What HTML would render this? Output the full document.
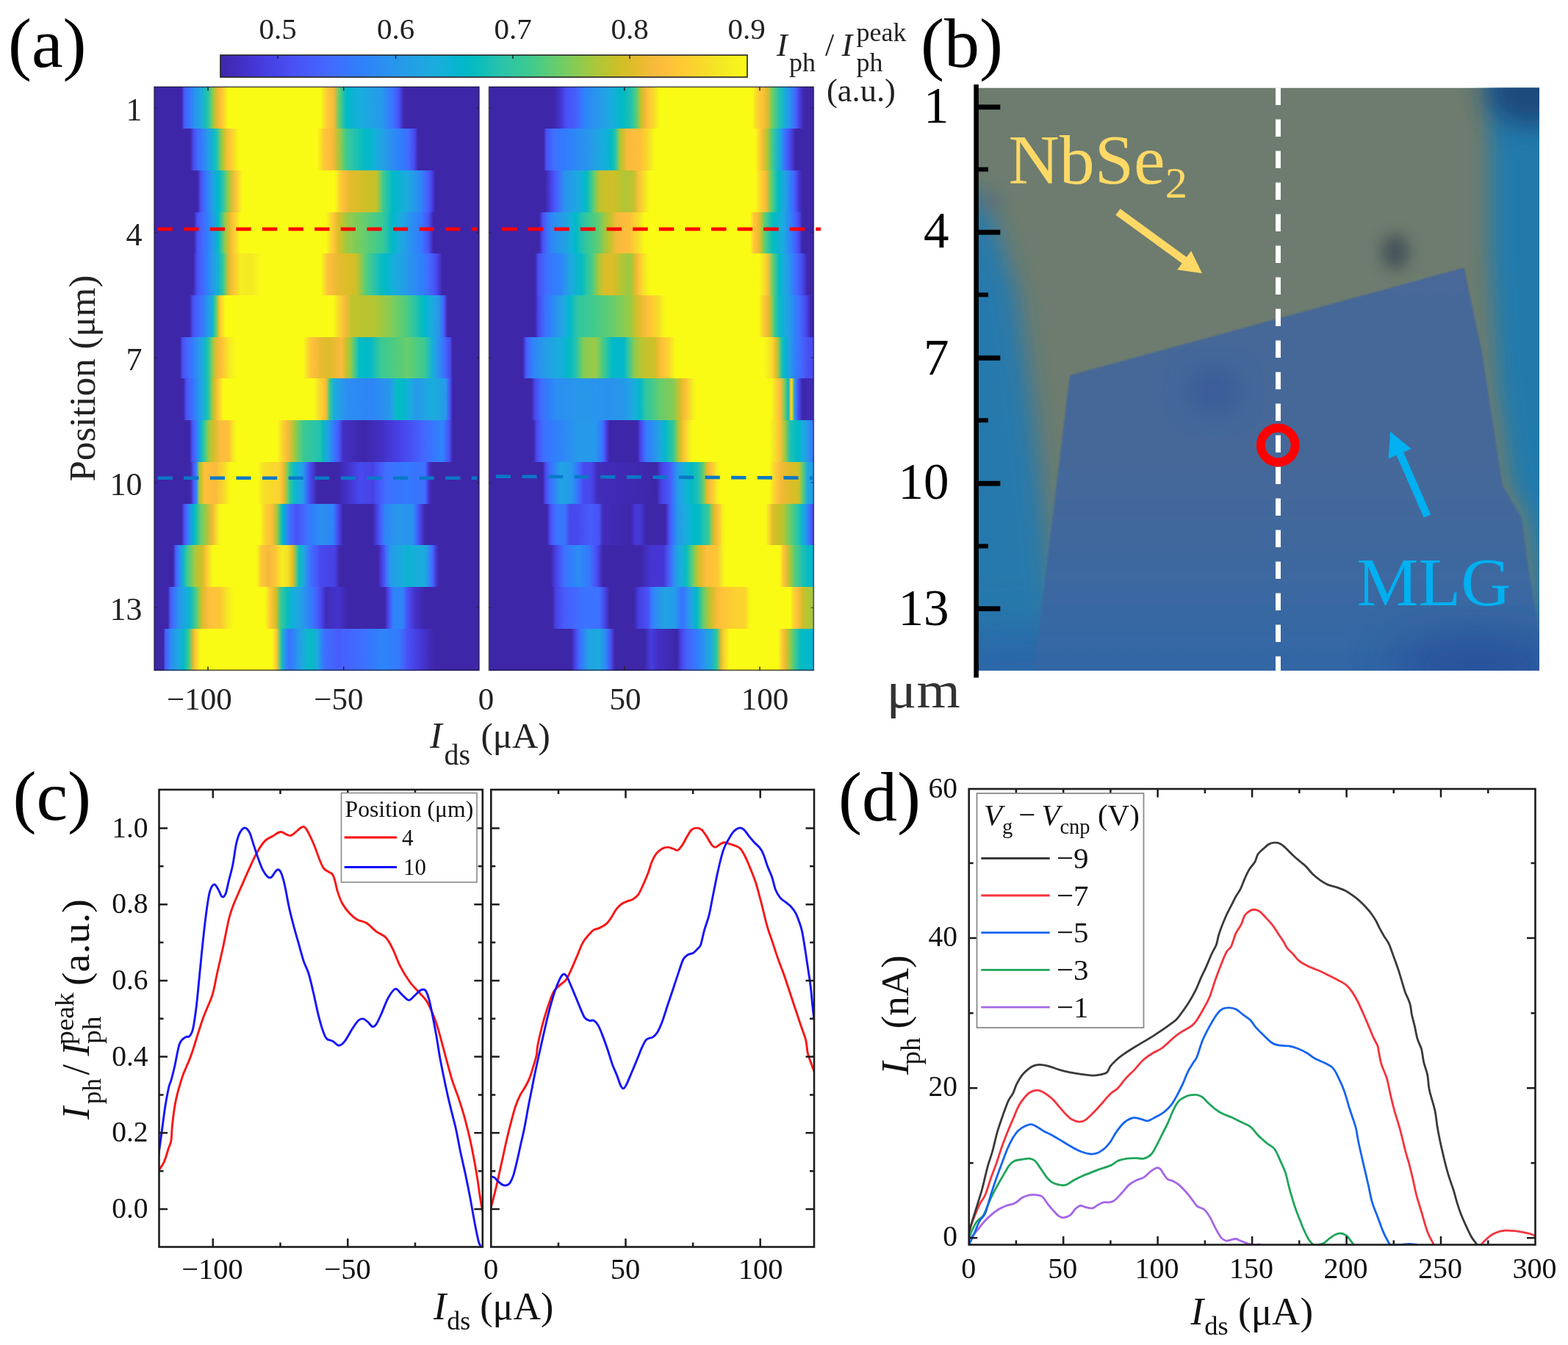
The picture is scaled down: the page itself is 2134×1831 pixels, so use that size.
<!DOCTYPE html>
<html lang="en"><head><meta charset="utf-8"><title>Figure</title>
<style>html,body{margin:0;padding:0;background:#fff;}svg{display:block;}text{font-family:'Liberation Serif', 'DejaVu Serif', serif;white-space:pre;}</style></head>
<body>
<svg width="2134" height="1831" viewBox="0 0 2134 1831">
<rect width="2134" height="1831" fill="#fff"/>
<defs>
<linearGradient id="gl1" x1="0" x2="1" y1="0" y2="0"><stop offset="0.0000" stop-color="#3e26a8"/><stop offset="0.0845" stop-color="#3e26a8"/><stop offset="0.0893" stop-color="#4745e9"/><stop offset="0.0925" stop-color="#475dfa"/><stop offset="0.1071" stop-color="#3875fe"/><stop offset="0.1166" stop-color="#2e85f8"/><stop offset="0.1250" stop-color="#2b92ef"/><stop offset="0.1429" stop-color="#1ca9df"/><stop offset="0.1433" stop-color="#1caadf"/><stop offset="0.1607" stop-color="#1fc0b1"/><stop offset="0.1701" stop-color="#3bc992"/><stop offset="0.1786" stop-color="#86cb54"/><stop offset="0.1914" stop-color="#dcbd29"/><stop offset="0.1964" stop-color="#edba33"/><stop offset="0.2048" stop-color="#fec13a"/><stop offset="0.2143" stop-color="#f9d72c"/><stop offset="0.2289" stop-color="#f9fb15"/><stop offset="0.5123" stop-color="#f9fb15"/><stop offset="0.5179" stop-color="#f5ed21"/><stop offset="0.5337" stop-color="#fec636"/><stop offset="0.5357" stop-color="#fec437"/><stop offset="0.5524" stop-color="#f7ba3c"/><stop offset="0.5536" stop-color="#f0ba36"/><stop offset="0.5684" stop-color="#67cd6d"/><stop offset="0.5714" stop-color="#55cc7c"/><stop offset="0.5893" stop-color="#06bcc0"/><stop offset="0.5925" stop-color="#01b8ca"/><stop offset="0.6071" stop-color="#08b4d0"/><stop offset="0.6250" stop-color="#14b0d8"/><stop offset="0.6429" stop-color="#1babde"/><stop offset="0.6460" stop-color="#1caadf"/><stop offset="0.6607" stop-color="#1fa5e2"/><stop offset="0.6786" stop-color="#23a0e5"/><stop offset="0.6964" stop-color="#269ae9"/><stop offset="0.6995" stop-color="#2699ea"/><stop offset="0.7143" stop-color="#2d89f5"/><stop offset="0.7321" stop-color="#3876fe"/><stop offset="0.7369" stop-color="#3d71ff"/><stop offset="0.7500" stop-color="#4757f7"/><stop offset="0.7529" stop-color="#4851f4"/><stop offset="0.7679" stop-color="#3f29b0"/><stop offset="0.7690" stop-color="#3e26a8"/><stop offset="1.0000" stop-color="#3e26a8"/></linearGradient>
<linearGradient id="gr1" x1="0" x2="1" y1="0" y2="0"><stop offset="0.0000" stop-color="#3e26a8"/><stop offset="0.2005" stop-color="#3e26a8"/><stop offset="0.2143" stop-color="#4230c4"/><stop offset="0.2219" stop-color="#4536d3"/><stop offset="0.2321" stop-color="#4747eb"/><stop offset="0.2380" stop-color="#4851f4"/><stop offset="0.2500" stop-color="#4756f7"/><stop offset="0.2647" stop-color="#475dfa"/><stop offset="0.2679" stop-color="#4661fc"/><stop offset="0.2857" stop-color="#3677fe"/><stop offset="0.2968" stop-color="#2e85f8"/><stop offset="0.3036" stop-color="#2d88f6"/><stop offset="0.3214" stop-color="#2b90ef"/><stop offset="0.3393" stop-color="#2698ea"/><stop offset="0.3396" stop-color="#2699ea"/><stop offset="0.3571" stop-color="#22a2e4"/><stop offset="0.3750" stop-color="#1babde"/><stop offset="0.3929" stop-color="#0db3d3"/><stop offset="0.3930" stop-color="#0db3d3"/><stop offset="0.4107" stop-color="#01b9c6"/><stop offset="0.4286" stop-color="#17bfb7"/><stop offset="0.4358" stop-color="#21c1b0"/><stop offset="0.4464" stop-color="#3bc992"/><stop offset="0.4572" stop-color="#67cd6d"/><stop offset="0.4643" stop-color="#acc738"/><stop offset="0.4733" stop-color="#dcbd29"/><stop offset="0.4821" stop-color="#f4ba39"/><stop offset="0.4893" stop-color="#fec13a"/><stop offset="0.5000" stop-color="#fcd030"/><stop offset="0.5107" stop-color="#f6e028"/><stop offset="0.5179" stop-color="#f5ec22"/><stop offset="0.5267" stop-color="#f9fb15"/><stop offset="0.8102" stop-color="#f9fb15"/><stop offset="0.8214" stop-color="#f6df29"/><stop offset="0.8262" stop-color="#fbd32f"/><stop offset="0.8393" stop-color="#fec438"/><stop offset="0.8422" stop-color="#fec13a"/><stop offset="0.8571" stop-color="#e0bc2a"/><stop offset="0.8583" stop-color="#dcbd29"/><stop offset="0.8743" stop-color="#67cd6d"/><stop offset="0.8750" stop-color="#63cd6f"/><stop offset="0.8929" stop-color="#2ac3a9"/><stop offset="0.8957" stop-color="#21c1b0"/><stop offset="0.9107" stop-color="#16afd9"/><stop offset="0.9225" stop-color="#2699ea"/><stop offset="0.9286" stop-color="#2d8bf3"/><stop offset="0.9439" stop-color="#4368fe"/><stop offset="0.9464" stop-color="#4660fc"/><stop offset="0.9599" stop-color="#4536d3"/><stop offset="0.9643" stop-color="#422fc2"/><stop offset="0.9706" stop-color="#3e26a8"/><stop offset="1.0000" stop-color="#3e26a8"/></linearGradient>
<linearGradient id="gl2" x1="0" x2="1" y1="0" y2="0"><stop offset="0.0000" stop-color="#3e26a8"/><stop offset="0.1112" stop-color="#3e26a8"/><stop offset="0.1219" stop-color="#4851f4"/><stop offset="0.1250" stop-color="#4757f7"/><stop offset="0.1380" stop-color="#3d71ff"/><stop offset="0.1429" stop-color="#3578fd"/><stop offset="0.1607" stop-color="#2a93ee"/><stop offset="0.1647" stop-color="#2699ea"/><stop offset="0.1786" stop-color="#0fb2d4"/><stop offset="0.1914" stop-color="#21c1b0"/><stop offset="0.1964" stop-color="#39c994"/><stop offset="0.2075" stop-color="#9cc944"/><stop offset="0.2143" stop-color="#c4c22a"/><stop offset="0.2289" stop-color="#fec13a"/><stop offset="0.2321" stop-color="#fec636"/><stop offset="0.2500" stop-color="#f5e725"/><stop offset="0.2610" stop-color="#f9fb15"/><stop offset="0.5016" stop-color="#f9fb15"/><stop offset="0.5179" stop-color="#fbd22f"/><stop offset="0.5230" stop-color="#fec636"/><stop offset="0.5357" stop-color="#febf3b"/><stop offset="0.5497" stop-color="#f7ba3c"/><stop offset="0.5536" stop-color="#e9bb30"/><stop offset="0.5711" stop-color="#9cc944"/><stop offset="0.5714" stop-color="#9ac945"/><stop offset="0.5893" stop-color="#46cb88"/><stop offset="0.5925" stop-color="#3bc992"/><stop offset="0.6071" stop-color="#2ec5a3"/><stop offset="0.6193" stop-color="#21c1b0"/><stop offset="0.6250" stop-color="#1bc0b4"/><stop offset="0.6429" stop-color="#06bcc0"/><stop offset="0.6607" stop-color="#03b7cc"/><stop offset="0.6727" stop-color="#0db3d3"/><stop offset="0.6786" stop-color="#14b0d8"/><stop offset="0.6964" stop-color="#1fa5e2"/><stop offset="0.7143" stop-color="#2699e9"/><stop offset="0.7262" stop-color="#2b91ef"/><stop offset="0.7321" stop-color="#2d8df2"/><stop offset="0.7500" stop-color="#2e83f9"/><stop offset="0.7679" stop-color="#3578fd"/><stop offset="0.7797" stop-color="#3d71ff"/><stop offset="0.7857" stop-color="#4465fd"/><stop offset="0.8011" stop-color="#4849ed"/><stop offset="0.8036" stop-color="#4740e3"/><stop offset="0.8118" stop-color="#3e26a8"/><stop offset="1.0000" stop-color="#3e26a8"/></linearGradient>
<linearGradient id="gr2" x1="0" x2="1" y1="0" y2="0"><stop offset="0.0000" stop-color="#3e26a8"/><stop offset="0.1684" stop-color="#3e26a8"/><stop offset="0.1765" stop-color="#4851f4"/><stop offset="0.1786" stop-color="#4854f5"/><stop offset="0.1964" stop-color="#416bfe"/><stop offset="0.2005" stop-color="#3d71ff"/><stop offset="0.2143" stop-color="#3876fe"/><stop offset="0.2321" stop-color="#327cfc"/><stop offset="0.2500" stop-color="#2f82fa"/><stop offset="0.2594" stop-color="#2e85f8"/><stop offset="0.2679" stop-color="#2d88f6"/><stop offset="0.2857" stop-color="#2c8ff1"/><stop offset="0.3036" stop-color="#2895ec"/><stop offset="0.3128" stop-color="#2699ea"/><stop offset="0.3214" stop-color="#249de6"/><stop offset="0.3393" stop-color="#1ea7e1"/><stop offset="0.3571" stop-color="#15afd9"/><stop offset="0.3663" stop-color="#0db3d3"/><stop offset="0.3750" stop-color="#01b9c6"/><stop offset="0.3877" stop-color="#21c1b0"/><stop offset="0.3929" stop-color="#3eca8f"/><stop offset="0.4037" stop-color="#b0c636"/><stop offset="0.4107" stop-color="#c7c12a"/><stop offset="0.4251" stop-color="#f7ba3c"/><stop offset="0.4286" stop-color="#f8ba3d"/><stop offset="0.4464" stop-color="#fcbd3d"/><stop offset="0.4643" stop-color="#fec03b"/><stop offset="0.4679" stop-color="#fec13a"/><stop offset="0.4821" stop-color="#fcd12f"/><stop offset="0.4947" stop-color="#f6e028"/><stop offset="0.5000" stop-color="#f5e924"/><stop offset="0.5107" stop-color="#f9fb15"/><stop offset="0.8209" stop-color="#f9fb15"/><stop offset="0.8214" stop-color="#f8f917"/><stop offset="0.8369" stop-color="#fec636"/><stop offset="0.8393" stop-color="#fec03b"/><stop offset="0.8529" stop-color="#c1c32d"/><stop offset="0.8571" stop-color="#b0c636"/><stop offset="0.8743" stop-color="#3bc992"/><stop offset="0.8750" stop-color="#39c895"/><stop offset="0.8929" stop-color="#13b0d8"/><stop offset="0.8957" stop-color="#1caadf"/><stop offset="0.9107" stop-color="#3975fe"/><stop offset="0.9118" stop-color="#3d71ff"/><stop offset="0.9278" stop-color="#4849ed"/><stop offset="0.9286" stop-color="#4747eb"/><stop offset="0.9439" stop-color="#3e26a8"/><stop offset="1.0000" stop-color="#3e26a8"/></linearGradient>
<linearGradient id="gl3" x1="0" x2="1" y1="0" y2="0"><stop offset="0.0000" stop-color="#3e26a8"/><stop offset="0.1326" stop-color="#3e26a8"/><stop offset="0.1429" stop-color="#484ff2"/><stop offset="0.1433" stop-color="#4851f4"/><stop offset="0.1594" stop-color="#3579fd"/><stop offset="0.1607" stop-color="#327cfc"/><stop offset="0.1786" stop-color="#249fe5"/><stop offset="0.1807" stop-color="#21a3e3"/><stop offset="0.1964" stop-color="#01b8ca"/><stop offset="0.2075" stop-color="#21c1b0"/><stop offset="0.2143" stop-color="#3ac994"/><stop offset="0.2289" stop-color="#9cc944"/><stop offset="0.2321" stop-color="#b4c533"/><stop offset="0.2500" stop-color="#fec03b"/><stop offset="0.2503" stop-color="#fec13a"/><stop offset="0.2679" stop-color="#f6f11f"/><stop offset="0.2717" stop-color="#f9fb15"/><stop offset="0.5551" stop-color="#f9fb15"/><stop offset="0.5714" stop-color="#fbd22f"/><stop offset="0.5765" stop-color="#fec636"/><stop offset="0.5893" stop-color="#f8ba3d"/><stop offset="0.5979" stop-color="#e8bb2e"/><stop offset="0.6071" stop-color="#e3bb2c"/><stop offset="0.6250" stop-color="#dbbd28"/><stop offset="0.6429" stop-color="#d1bf27"/><stop offset="0.6460" stop-color="#d0c027"/><stop offset="0.6607" stop-color="#ccc028"/><stop offset="0.6786" stop-color="#c7c12a"/><stop offset="0.6834" stop-color="#c6c22a"/><stop offset="0.6964" stop-color="#74cc62"/><stop offset="0.7048" stop-color="#3bc992"/><stop offset="0.7143" stop-color="#2ec4a5"/><stop offset="0.7321" stop-color="#03bbc3"/><stop offset="0.7369" stop-color="#01b8ca"/><stop offset="0.7500" stop-color="#09b4d1"/><stop offset="0.7679" stop-color="#17aeda"/><stop offset="0.7797" stop-color="#1caadf"/><stop offset="0.7857" stop-color="#1fa5e2"/><stop offset="0.8036" stop-color="#2796eb"/><stop offset="0.8214" stop-color="#2e86f7"/><stop offset="0.8225" stop-color="#2e85f8"/><stop offset="0.8393" stop-color="#4564fd"/><stop offset="0.8492" stop-color="#4851f4"/><stop offset="0.8571" stop-color="#4639da"/><stop offset="0.8652" stop-color="#3e26a8"/><stop offset="1.0000" stop-color="#3e26a8"/></linearGradient>
<linearGradient id="gr3" x1="0" x2="1" y1="0" y2="0"><stop offset="0.0000" stop-color="#3e26a8"/><stop offset="0.1738" stop-color="#3e26a8"/><stop offset="0.1786" stop-color="#412ebd"/><stop offset="0.1898" stop-color="#4741e5"/><stop offset="0.1964" stop-color="#484df0"/><stop offset="0.2059" stop-color="#475dfa"/><stop offset="0.2143" stop-color="#406dfe"/><stop offset="0.2321" stop-color="#2c90f0"/><stop offset="0.2326" stop-color="#2b91ef"/><stop offset="0.2500" stop-color="#259ce7"/><stop offset="0.2679" stop-color="#1fa6e2"/><stop offset="0.2754" stop-color="#1caadf"/><stop offset="0.2857" stop-color="#0fb2d5"/><stop offset="0.3021" stop-color="#06bcc0"/><stop offset="0.3036" stop-color="#0dbdbb"/><stop offset="0.3214" stop-color="#5acc77"/><stop offset="0.3235" stop-color="#67cd6d"/><stop offset="0.3393" stop-color="#b6c532"/><stop offset="0.3449" stop-color="#c6c22a"/><stop offset="0.3571" stop-color="#c9c129"/><stop offset="0.3750" stop-color="#cec028"/><stop offset="0.3824" stop-color="#d0c027"/><stop offset="0.3929" stop-color="#c7c129"/><stop offset="0.4107" stop-color="#b8c431"/><stop offset="0.4198" stop-color="#b0c636"/><stop offset="0.4286" stop-color="#b6c533"/><stop offset="0.4464" stop-color="#c0c32d"/><stop offset="0.4465" stop-color="#c1c32d"/><stop offset="0.4626" stop-color="#fec13a"/><stop offset="0.4643" stop-color="#fec438"/><stop offset="0.4786" stop-color="#f6e028"/><stop offset="0.4821" stop-color="#f5e626"/><stop offset="0.4947" stop-color="#f9fb15"/><stop offset="0.8209" stop-color="#f9fb15"/><stop offset="0.8214" stop-color="#f9f916"/><stop offset="0.8369" stop-color="#fbd32f"/><stop offset="0.8393" stop-color="#fccf31"/><stop offset="0.8529" stop-color="#f7ba3c"/><stop offset="0.8571" stop-color="#dbbd29"/><stop offset="0.8690" stop-color="#67cd6d"/><stop offset="0.8750" stop-color="#45cb89"/><stop offset="0.8904" stop-color="#06bcc0"/><stop offset="0.8929" stop-color="#01b9c6"/><stop offset="0.9107" stop-color="#21a3e3"/><stop offset="0.9171" stop-color="#2699ea"/><stop offset="0.9286" stop-color="#307ffb"/><stop offset="0.9385" stop-color="#4368fe"/><stop offset="0.9464" stop-color="#4850f2"/><stop offset="0.9545" stop-color="#4536d3"/><stop offset="0.9643" stop-color="#3e28ac"/><stop offset="0.9652" stop-color="#3e26a8"/><stop offset="1.0000" stop-color="#3e26a8"/></linearGradient>
<linearGradient id="gl4" x1="0" x2="1" y1="0" y2="0"><stop offset="0.0000" stop-color="#3e26a8"/><stop offset="0.1219" stop-color="#3e26a8"/><stop offset="0.1250" stop-color="#4331c6"/><stop offset="0.1326" stop-color="#4851f4"/><stop offset="0.1429" stop-color="#4660fb"/><stop offset="0.1540" stop-color="#3d71ff"/><stop offset="0.1607" stop-color="#327bfc"/><stop offset="0.1786" stop-color="#2896ec"/><stop offset="0.1807" stop-color="#2699ea"/><stop offset="0.1964" stop-color="#01bac5"/><stop offset="0.2021" stop-color="#21c1b0"/><stop offset="0.2143" stop-color="#75cc61"/><stop offset="0.2182" stop-color="#9cc944"/><stop offset="0.2321" stop-color="#e6bb2d"/><stop offset="0.2396" stop-color="#fec13a"/><stop offset="0.2500" stop-color="#f9d72d"/><stop offset="0.2663" stop-color="#f9fb15"/><stop offset="0.5283" stop-color="#f9fb15"/><stop offset="0.5357" stop-color="#f5eb23"/><stop offset="0.5497" stop-color="#fdcb33"/><stop offset="0.5536" stop-color="#fec338"/><stop offset="0.5658" stop-color="#dcbd29"/><stop offset="0.5714" stop-color="#cfc028"/><stop offset="0.5893" stop-color="#a8c73b"/><stop offset="0.5925" stop-color="#9cc944"/><stop offset="0.6071" stop-color="#8ecb4f"/><stop offset="0.6250" stop-color="#7bcc5c"/><stop offset="0.6429" stop-color="#6acd6a"/><stop offset="0.6460" stop-color="#67cd6d"/><stop offset="0.6607" stop-color="#59cc78"/><stop offset="0.6786" stop-color="#4acb85"/><stop offset="0.6964" stop-color="#3dc990"/><stop offset="0.6995" stop-color="#3bc992"/><stop offset="0.7143" stop-color="#28c3aa"/><stop offset="0.7321" stop-color="#02bac4"/><stop offset="0.7369" stop-color="#01b8ca"/><stop offset="0.7500" stop-color="#14b0d8"/><stop offset="0.7679" stop-color="#21a2e4"/><stop offset="0.7797" stop-color="#2699ea"/><stop offset="0.7857" stop-color="#2994ed"/><stop offset="0.8036" stop-color="#2e87f7"/><stop offset="0.8214" stop-color="#347afd"/><stop offset="0.8225" stop-color="#3579fd"/><stop offset="0.8393" stop-color="#4759f9"/><stop offset="0.8439" stop-color="#4851f4"/><stop offset="0.8571" stop-color="#412cbb"/><stop offset="0.8599" stop-color="#3e26a8"/><stop offset="1.0000" stop-color="#3e26a8"/></linearGradient>
<linearGradient id="gr4" x1="0" x2="1" y1="0" y2="0"><stop offset="0.0000" stop-color="#3e26a8"/><stop offset="0.1551" stop-color="#3e26a8"/><stop offset="0.1607" stop-color="#463adc"/><stop offset="0.1658" stop-color="#4851f4"/><stop offset="0.1786" stop-color="#406cfe"/><stop offset="0.1898" stop-color="#2e85f8"/><stop offset="0.1964" stop-color="#2d89f5"/><stop offset="0.2143" stop-color="#2995ec"/><stop offset="0.2321" stop-color="#239fe5"/><stop offset="0.2326" stop-color="#23a0e5"/><stop offset="0.2500" stop-color="#17aeda"/><stop offset="0.2647" stop-color="#01b8ca"/><stop offset="0.2679" stop-color="#01b9c6"/><stop offset="0.2857" stop-color="#23c1af"/><stop offset="0.2968" stop-color="#32c69f"/><stop offset="0.3036" stop-color="#36c898"/><stop offset="0.3214" stop-color="#4bcb84"/><stop offset="0.3393" stop-color="#66cd6d"/><stop offset="0.3396" stop-color="#67cd6d"/><stop offset="0.3571" stop-color="#a1c840"/><stop offset="0.3717" stop-color="#c1c32d"/><stop offset="0.3750" stop-color="#c9c129"/><stop offset="0.3929" stop-color="#f6ba3c"/><stop offset="0.3930" stop-color="#f7ba3c"/><stop offset="0.4107" stop-color="#fbbc3d"/><stop offset="0.4286" stop-color="#febf3b"/><stop offset="0.4358" stop-color="#fec13a"/><stop offset="0.4464" stop-color="#fdcd32"/><stop offset="0.4626" stop-color="#f6e028"/><stop offset="0.4643" stop-color="#f5e327"/><stop offset="0.4786" stop-color="#f9fb15"/><stop offset="0.8048" stop-color="#f9fb15"/><stop offset="0.8155" stop-color="#fec636"/><stop offset="0.8214" stop-color="#febe3c"/><stop offset="0.8316" stop-color="#e8bb2e"/><stop offset="0.8393" stop-color="#bac430"/><stop offset="0.8476" stop-color="#67cd6d"/><stop offset="0.8571" stop-color="#3dca90"/><stop offset="0.8743" stop-color="#06bcc0"/><stop offset="0.8750" stop-color="#05bbc1"/><stop offset="0.8929" stop-color="#0db3d3"/><stop offset="0.9064" stop-color="#1caadf"/><stop offset="0.9107" stop-color="#21a3e3"/><stop offset="0.9286" stop-color="#2f82fa"/><stop offset="0.9332" stop-color="#3579fd"/><stop offset="0.9464" stop-color="#475bf9"/><stop offset="0.9545" stop-color="#4849ed"/><stop offset="0.9643" stop-color="#3f29b1"/><stop offset="0.9652" stop-color="#3e26a8"/><stop offset="1.0000" stop-color="#3e26a8"/></linearGradient>
<linearGradient id="gl5" x1="0" x2="1" y1="0" y2="0"><stop offset="0.0000" stop-color="#3e26a8"/><stop offset="0.1193" stop-color="#3e26a8"/><stop offset="0.1250" stop-color="#4536d4"/><stop offset="0.1326" stop-color="#4851f4"/><stop offset="0.1429" stop-color="#4660fb"/><stop offset="0.1594" stop-color="#3579fd"/><stop offset="0.1607" stop-color="#327bfc"/><stop offset="0.1786" stop-color="#2798ea"/><stop offset="0.1914" stop-color="#1caadf"/><stop offset="0.1964" stop-color="#09b4d1"/><stop offset="0.2128" stop-color="#3bc992"/><stop offset="0.2143" stop-color="#49cb86"/><stop offset="0.2289" stop-color="#dcbd29"/><stop offset="0.2321" stop-color="#e8bb2f"/><stop offset="0.2449" stop-color="#fec636"/><stop offset="0.2500" stop-color="#fccf30"/><stop offset="0.2663" stop-color="#f5ee21"/><stop offset="0.2679" stop-color="#f5ee21"/><stop offset="0.2857" stop-color="#f5eb23"/><stop offset="0.2984" stop-color="#f5e825"/><stop offset="0.3036" stop-color="#f5eb23"/><stop offset="0.3214" stop-color="#f7f61a"/><stop offset="0.3305" stop-color="#f9fb15"/><stop offset="0.5123" stop-color="#f9fb15"/><stop offset="0.5179" stop-color="#f5ec22"/><stop offset="0.5337" stop-color="#fec13a"/><stop offset="0.5357" stop-color="#febf3b"/><stop offset="0.5536" stop-color="#f3ba39"/><stop offset="0.5658" stop-color="#e8bb2e"/><stop offset="0.5714" stop-color="#e5bb2d"/><stop offset="0.5893" stop-color="#debd29"/><stop offset="0.6071" stop-color="#d6be28"/><stop offset="0.6193" stop-color="#d0c027"/><stop offset="0.6250" stop-color="#c2c22c"/><stop offset="0.6429" stop-color="#77cc60"/><stop offset="0.6460" stop-color="#67cd6d"/><stop offset="0.6607" stop-color="#43ca8b"/><stop offset="0.6786" stop-color="#2ac3a9"/><stop offset="0.6834" stop-color="#21c1b0"/><stop offset="0.6964" stop-color="#0dbdbb"/><stop offset="0.7143" stop-color="#01b7ca"/><stop offset="0.7262" stop-color="#0db3d3"/><stop offset="0.7321" stop-color="#13b0d7"/><stop offset="0.7500" stop-color="#1da8e0"/><stop offset="0.7679" stop-color="#249fe5"/><stop offset="0.7797" stop-color="#2699ea"/><stop offset="0.7857" stop-color="#2895ec"/><stop offset="0.8036" stop-color="#2d8bf4"/><stop offset="0.8214" stop-color="#2f80fa"/><stop offset="0.8332" stop-color="#3579fd"/><stop offset="0.8393" stop-color="#3c71ff"/><stop offset="0.8571" stop-color="#475bf9"/><stop offset="0.8652" stop-color="#4851f4"/><stop offset="0.8750" stop-color="#463bdd"/><stop offset="0.8866" stop-color="#3e26a8"/><stop offset="1.0000" stop-color="#3e26a8"/></linearGradient>
<linearGradient id="gr5" x1="0" x2="1" y1="0" y2="0"><stop offset="0.0000" stop-color="#3e26a8"/><stop offset="0.1417" stop-color="#3e26a8"/><stop offset="0.1429" stop-color="#402ab4"/><stop offset="0.1524" stop-color="#4851f4"/><stop offset="0.1607" stop-color="#475bf9"/><stop offset="0.1786" stop-color="#3d70ff"/><stop offset="0.1791" stop-color="#3d71ff"/><stop offset="0.1964" stop-color="#3479fd"/><stop offset="0.2143" stop-color="#2f82fa"/><stop offset="0.2219" stop-color="#2e85f8"/><stop offset="0.2321" stop-color="#2b92ee"/><stop offset="0.2500" stop-color="#1fa6e2"/><stop offset="0.2540" stop-color="#1caadf"/><stop offset="0.2679" stop-color="#0db3d3"/><stop offset="0.2857" stop-color="#06bcc0"/><stop offset="0.2861" stop-color="#06bcc0"/><stop offset="0.3036" stop-color="#2fc5a2"/><stop offset="0.3182" stop-color="#4acb84"/><stop offset="0.3214" stop-color="#58cc79"/><stop offset="0.3393" stop-color="#afc637"/><stop offset="0.3396" stop-color="#b0c636"/><stop offset="0.3556" stop-color="#dcbd29"/><stop offset="0.3824" stop-color="#dcbd29"/><stop offset="0.3929" stop-color="#cac129"/><stop offset="0.4091" stop-color="#b0c636"/><stop offset="0.4107" stop-color="#afc637"/><stop offset="0.4286" stop-color="#a1c840"/><stop offset="0.4358" stop-color="#9cc944"/><stop offset="0.4464" stop-color="#cdc028"/><stop offset="0.4572" stop-color="#f7ba3c"/><stop offset="0.4643" stop-color="#fec735"/><stop offset="0.4786" stop-color="#f5e626"/><stop offset="0.4821" stop-color="#f5ea23"/><stop offset="0.4947" stop-color="#f9fb15"/><stop offset="0.8316" stop-color="#f9fb15"/><stop offset="0.8393" stop-color="#f5ee21"/><stop offset="0.8476" stop-color="#f6e028"/><stop offset="0.8571" stop-color="#fec438"/><stop offset="0.8583" stop-color="#fec13a"/><stop offset="0.8743" stop-color="#67cd6d"/><stop offset="0.8750" stop-color="#62cd70"/><stop offset="0.8929" stop-color="#06bcc0"/><stop offset="0.8957" stop-color="#01b8ca"/><stop offset="0.9107" stop-color="#1da8e0"/><stop offset="0.9225" stop-color="#2699ea"/><stop offset="0.9286" stop-color="#2c8ef2"/><stop offset="0.9439" stop-color="#3d71ff"/><stop offset="0.9464" stop-color="#416cfe"/><stop offset="0.9643" stop-color="#484bef"/><stop offset="0.9652" stop-color="#4849ed"/><stop offset="0.9813" stop-color="#3e26a8"/><stop offset="1.0000" stop-color="#3e26a8"/></linearGradient>
<linearGradient id="gl6" x1="0" x2="1" y1="0" y2="0"><stop offset="0.0000" stop-color="#3e26a8"/><stop offset="0.1086" stop-color="#3e26a8"/><stop offset="0.1193" stop-color="#4851f4"/><stop offset="0.1250" stop-color="#4759f8"/><stop offset="0.1429" stop-color="#3d71ff"/><stop offset="0.1487" stop-color="#3579fd"/><stop offset="0.1607" stop-color="#2b90ef"/><stop offset="0.1754" stop-color="#1caadf"/><stop offset="0.1786" stop-color="#06b5cf"/><stop offset="0.1914" stop-color="#67cd6d"/><stop offset="0.1964" stop-color="#c9c129"/><stop offset="0.2021" stop-color="#fec636"/><stop offset="0.2143" stop-color="#f5ee21"/><stop offset="0.2182" stop-color="#f9fb15"/><stop offset="0.5497" stop-color="#f9fb15"/><stop offset="0.5536" stop-color="#f7f41c"/><stop offset="0.5711" stop-color="#fbd32f"/><stop offset="0.5714" stop-color="#fbd22f"/><stop offset="0.5872" stop-color="#f7ba3c"/><stop offset="0.5893" stop-color="#f2ba38"/><stop offset="0.6071" stop-color="#c4c22b"/><stop offset="0.6086" stop-color="#c1c32d"/><stop offset="0.6250" stop-color="#bec32e"/><stop offset="0.6429" stop-color="#bbc430"/><stop offset="0.6607" stop-color="#b8c431"/><stop offset="0.6727" stop-color="#b6c532"/><stop offset="0.6786" stop-color="#b3c534"/><stop offset="0.6964" stop-color="#a4c83e"/><stop offset="0.7143" stop-color="#93ca4b"/><stop offset="0.7262" stop-color="#87cb54"/><stop offset="0.7321" stop-color="#80cc5a"/><stop offset="0.7500" stop-color="#6acd6a"/><stop offset="0.7679" stop-color="#57cc7a"/><stop offset="0.7797" stop-color="#4acb84"/><stop offset="0.7857" stop-color="#3fca8e"/><stop offset="0.8036" stop-color="#2cc4a7"/><stop offset="0.8214" stop-color="#0bbdbd"/><stop offset="0.8332" stop-color="#01b8ca"/><stop offset="0.8393" stop-color="#09b4d1"/><stop offset="0.8571" stop-color="#1da8e0"/><stop offset="0.8750" stop-color="#2699e9"/><stop offset="0.8759" stop-color="#2699ea"/><stop offset="0.8920" stop-color="#475dfa"/><stop offset="0.8929" stop-color="#4758f8"/><stop offset="0.9027" stop-color="#3e26a8"/><stop offset="1.0000" stop-color="#3e26a8"/></linearGradient>
<linearGradient id="gr6" x1="0" x2="1" y1="0" y2="0"><stop offset="0.0000" stop-color="#3e26a8"/><stop offset="0.1417" stop-color="#3e26a8"/><stop offset="0.1429" stop-color="#3f29b2"/><stop offset="0.1524" stop-color="#4849ed"/><stop offset="0.1607" stop-color="#4758f8"/><stop offset="0.1738" stop-color="#3d71ff"/><stop offset="0.1786" stop-color="#3876fe"/><stop offset="0.1964" stop-color="#2d88f6"/><stop offset="0.2059" stop-color="#2b91ef"/><stop offset="0.2143" stop-color="#2699e9"/><stop offset="0.2321" stop-color="#1caadf"/><stop offset="0.2433" stop-color="#0db3d3"/><stop offset="0.2500" stop-color="#01b8ca"/><stop offset="0.2679" stop-color="#26c2ad"/><stop offset="0.2754" stop-color="#32c69f"/><stop offset="0.2857" stop-color="#34c79b"/><stop offset="0.3036" stop-color="#3ac994"/><stop offset="0.3214" stop-color="#41ca8c"/><stop offset="0.3393" stop-color="#4acb84"/><stop offset="0.3396" stop-color="#4acb84"/><stop offset="0.3571" stop-color="#57cc7a"/><stop offset="0.3750" stop-color="#63cd6f"/><stop offset="0.3929" stop-color="#71cd64"/><stop offset="0.3930" stop-color="#71cd64"/><stop offset="0.4107" stop-color="#83cc57"/><stop offset="0.4286" stop-color="#95ca49"/><stop offset="0.4358" stop-color="#9cc944"/><stop offset="0.4464" stop-color="#bbc42f"/><stop offset="0.4626" stop-color="#dcbd29"/><stop offset="0.4643" stop-color="#dfbc2a"/><stop offset="0.4821" stop-color="#fabb3d"/><stop offset="0.4893" stop-color="#fec13a"/><stop offset="0.5000" stop-color="#fec934"/><stop offset="0.5179" stop-color="#f9d82c"/><stop offset="0.5214" stop-color="#f7db2b"/><stop offset="0.5357" stop-color="#f6f11f"/><stop offset="0.5428" stop-color="#f9fb15"/><stop offset="0.8316" stop-color="#f9fb15"/><stop offset="0.8393" stop-color="#f5e128"/><stop offset="0.8476" stop-color="#fec636"/><stop offset="0.8571" stop-color="#f2ba38"/><stop offset="0.8636" stop-color="#dcbd29"/><stop offset="0.8750" stop-color="#6fcd66"/><stop offset="0.8797" stop-color="#3bc992"/><stop offset="0.8929" stop-color="#0bbdbd"/><stop offset="0.9011" stop-color="#0db3d3"/><stop offset="0.9107" stop-color="#1baade"/><stop offset="0.9278" stop-color="#2699ea"/><stop offset="0.9286" stop-color="#2797ea"/><stop offset="0.9464" stop-color="#317dfc"/><stop offset="0.9545" stop-color="#3d71ff"/><stop offset="0.9643" stop-color="#465efb"/><stop offset="0.9759" stop-color="#4849ed"/><stop offset="0.9821" stop-color="#463adb"/><stop offset="0.9920" stop-color="#3e26a8"/><stop offset="1.0000" stop-color="#3e26a8"/></linearGradient>
<linearGradient id="gl7" x1="0" x2="1" y1="0" y2="0"><stop offset="0.0000" stop-color="#3e26a8"/><stop offset="0.0791" stop-color="#3e26a8"/><stop offset="0.0872" stop-color="#4851f4"/><stop offset="0.0893" stop-color="#4854f5"/><stop offset="0.1071" stop-color="#416cfe"/><stop offset="0.1166" stop-color="#3579fd"/><stop offset="0.1250" stop-color="#2e87f7"/><stop offset="0.1429" stop-color="#22a2e4"/><stop offset="0.1487" stop-color="#1caadf"/><stop offset="0.1607" stop-color="#13beb8"/><stop offset="0.1701" stop-color="#3bc992"/><stop offset="0.1786" stop-color="#8fcb4e"/><stop offset="0.1914" stop-color="#e8bb2e"/><stop offset="0.1964" stop-color="#f1ba37"/><stop offset="0.2075" stop-color="#fec13a"/><stop offset="0.2143" stop-color="#fdcc32"/><stop offset="0.2321" stop-color="#f5ea23"/><stop offset="0.2342" stop-color="#f5ee21"/><stop offset="0.2500" stop-color="#f8f718"/><stop offset="0.2556" stop-color="#f9fb15"/><stop offset="0.4588" stop-color="#f9fb15"/><stop offset="0.4643" stop-color="#f5ed21"/><stop offset="0.4802" stop-color="#fec636"/><stop offset="0.4821" stop-color="#fec437"/><stop offset="0.5000" stop-color="#f7ba3c"/><stop offset="0.5123" stop-color="#e8bb2e"/><stop offset="0.5179" stop-color="#e5bb2d"/><stop offset="0.5357" stop-color="#debd29"/><stop offset="0.5390" stop-color="#dcbd29"/><stop offset="0.5536" stop-color="#e9bb30"/><stop offset="0.5714" stop-color="#f8ba3d"/><stop offset="0.5765" stop-color="#fabc3d"/><stop offset="0.5893" stop-color="#d2bf27"/><stop offset="0.6032" stop-color="#9cc944"/><stop offset="0.6071" stop-color="#80cc59"/><stop offset="0.6250" stop-color="#24c1ae"/><stop offset="0.6299" stop-color="#06bcc0"/><stop offset="0.6429" stop-color="#02bac4"/><stop offset="0.6607" stop-color="#01b8ca"/><stop offset="0.6620" stop-color="#01b8ca"/><stop offset="0.6786" stop-color="#1cc0b3"/><stop offset="0.6964" stop-color="#37c898"/><stop offset="0.6995" stop-color="#3bc992"/><stop offset="0.7143" stop-color="#41ca8c"/><stop offset="0.7321" stop-color="#4bcb84"/><stop offset="0.7500" stop-color="#55cc7c"/><stop offset="0.7679" stop-color="#5fcd73"/><stop offset="0.7797" stop-color="#67cd6d"/><stop offset="0.7857" stop-color="#61cd71"/><stop offset="0.8036" stop-color="#51cc7e"/><stop offset="0.8214" stop-color="#43ca8b"/><stop offset="0.8332" stop-color="#3bc992"/><stop offset="0.8393" stop-color="#2bc3a8"/><stop offset="0.8571" stop-color="#16afd9"/><stop offset="0.8599" stop-color="#1caadf"/><stop offset="0.8750" stop-color="#2b91ef"/><stop offset="0.8920" stop-color="#3d71ff"/><stop offset="0.8929" stop-color="#3f6fff"/><stop offset="0.9107" stop-color="#4849ed"/><stop offset="0.9107" stop-color="#4849ed"/><stop offset="0.9187" stop-color="#3e26a8"/><stop offset="1.0000" stop-color="#3e26a8"/></linearGradient>
<linearGradient id="gr7" x1="0" x2="1" y1="0" y2="0"><stop offset="0.0000" stop-color="#3e26a8"/><stop offset="0.1043" stop-color="#3e26a8"/><stop offset="0.1071" stop-color="#4433cb"/><stop offset="0.1150" stop-color="#475dfa"/><stop offset="0.1250" stop-color="#3e6fff"/><stop offset="0.1364" stop-color="#2e85f8"/><stop offset="0.1429" stop-color="#2d89f5"/><stop offset="0.1607" stop-color="#2995ec"/><stop offset="0.1786" stop-color="#239fe5"/><stop offset="0.1791" stop-color="#23a0e5"/><stop offset="0.1964" stop-color="#1ea6e1"/><stop offset="0.2143" stop-color="#19addc"/><stop offset="0.2321" stop-color="#0db3d4"/><stop offset="0.2326" stop-color="#0db3d3"/><stop offset="0.2500" stop-color="#05bbc1"/><stop offset="0.2647" stop-color="#21c1b0"/><stop offset="0.2679" stop-color="#2bc3a8"/><stop offset="0.2857" stop-color="#69cd6b"/><stop offset="0.2914" stop-color="#87cb54"/><stop offset="0.3036" stop-color="#8ecb4f"/><stop offset="0.3214" stop-color="#98ca47"/><stop offset="0.3289" stop-color="#9cc944"/><stop offset="0.3393" stop-color="#72cd63"/><stop offset="0.3556" stop-color="#3bc992"/><stop offset="0.3571" stop-color="#38c896"/><stop offset="0.3750" stop-color="#0cbdbc"/><stop offset="0.3824" stop-color="#01b8ca"/><stop offset="0.4144" stop-color="#01b8ca"/><stop offset="0.4286" stop-color="#31c6a0"/><stop offset="0.4464" stop-color="#86cb55"/><stop offset="0.4465" stop-color="#87cb54"/><stop offset="0.4643" stop-color="#afc637"/><stop offset="0.4786" stop-color="#c1c32d"/><stop offset="0.4821" stop-color="#c2c22c"/><stop offset="0.5000" stop-color="#cbc129"/><stop offset="0.5107" stop-color="#d0c027"/><stop offset="0.5179" stop-color="#e4bb2c"/><stop offset="0.5321" stop-color="#fec13a"/><stop offset="0.5357" stop-color="#fec438"/><stop offset="0.5535" stop-color="#fbd32f"/><stop offset="0.5536" stop-color="#fbd32e"/><stop offset="0.5714" stop-color="#f7f51b"/><stop offset="0.5749" stop-color="#f9fb15"/><stop offset="0.8476" stop-color="#f9fb15"/><stop offset="0.8571" stop-color="#f6ef20"/><stop offset="0.8690" stop-color="#f6e028"/><stop offset="0.8750" stop-color="#fdcc32"/><stop offset="0.8850" stop-color="#dcbd29"/><stop offset="0.8929" stop-color="#85cb56"/><stop offset="0.9011" stop-color="#21c1b0"/><stop offset="0.9107" stop-color="#03b7cc"/><stop offset="0.9278" stop-color="#2699ea"/><stop offset="0.9286" stop-color="#2797ea"/><stop offset="0.9464" stop-color="#317dfc"/><stop offset="0.9545" stop-color="#3d71ff"/><stop offset="0.9643" stop-color="#4465fd"/><stop offset="0.9813" stop-color="#4851f4"/><stop offset="0.9821" stop-color="#4851f3"/><stop offset="1.0000" stop-color="#4849ed"/></linearGradient>
<linearGradient id="gl8" x1="0" x2="1" y1="0" y2="0"><stop offset="0.0000" stop-color="#3e26a8"/><stop offset="0.0898" stop-color="#3e26a8"/><stop offset="0.0979" stop-color="#4851f4"/><stop offset="0.1071" stop-color="#4660fb"/><stop offset="0.1219" stop-color="#3579fd"/><stop offset="0.1250" stop-color="#307ffb"/><stop offset="0.1429" stop-color="#23a0e5"/><stop offset="0.1487" stop-color="#1caadf"/><stop offset="0.1607" stop-color="#13beb8"/><stop offset="0.1701" stop-color="#3bc992"/><stop offset="0.1786" stop-color="#a2c83f"/><stop offset="0.1861" stop-color="#dcbd29"/><stop offset="0.1964" stop-color="#fec537"/><stop offset="0.1968" stop-color="#fec636"/><stop offset="0.2128" stop-color="#f9fb15"/><stop offset="0.4909" stop-color="#f9fb15"/><stop offset="0.5000" stop-color="#f5ea24"/><stop offset="0.5123" stop-color="#fbd32f"/><stop offset="0.5179" stop-color="#fec934"/><stop offset="0.5283" stop-color="#f7ba3c"/><stop offset="0.5357" stop-color="#84cb56"/><stop offset="0.5390" stop-color="#3bc992"/><stop offset="0.5536" stop-color="#16aeda"/><stop offset="0.5551" stop-color="#1caadf"/><stop offset="0.5714" stop-color="#249ee6"/><stop offset="0.5893" stop-color="#2c90f0"/><stop offset="0.5925" stop-color="#2d8df2"/><stop offset="0.6071" stop-color="#2d8cf3"/><stop offset="0.6250" stop-color="#2d8af5"/><stop offset="0.6429" stop-color="#2d88f6"/><stop offset="0.6607" stop-color="#2e86f7"/><stop offset="0.6727" stop-color="#2e85f8"/><stop offset="0.6786" stop-color="#2e87f7"/><stop offset="0.6964" stop-color="#2c8ef1"/><stop offset="0.7143" stop-color="#2994ed"/><stop offset="0.7262" stop-color="#2699ea"/><stop offset="0.7321" stop-color="#20a4e3"/><stop offset="0.7476" stop-color="#06bcc0"/><stop offset="0.7500" stop-color="#05bbc1"/><stop offset="0.7679" stop-color="#01b8c9"/><stop offset="0.7690" stop-color="#01b8ca"/><stop offset="0.7857" stop-color="#1aacdd"/><stop offset="0.8036" stop-color="#259be8"/><stop offset="0.8064" stop-color="#2699ea"/><stop offset="0.8214" stop-color="#249fe6"/><stop offset="0.8393" stop-color="#1fa6e2"/><stop offset="0.8571" stop-color="#19acdc"/><stop offset="0.8599" stop-color="#18addb"/><stop offset="0.8750" stop-color="#1fa5e2"/><stop offset="0.8929" stop-color="#259be8"/><stop offset="0.8973" stop-color="#2699ea"/><stop offset="0.9107" stop-color="#4851f4"/><stop offset="0.9107" stop-color="#4851f3"/><stop offset="0.9187" stop-color="#3e26a8"/><stop offset="1.0000" stop-color="#3e26a8"/></linearGradient>
<linearGradient id="gr8" x1="0" x2="1" y1="0" y2="0"><stop offset="0.0000" stop-color="#3e26a8"/><stop offset="0.1310" stop-color="#3e26a8"/><stop offset="0.1417" stop-color="#4849ed"/><stop offset="0.1429" stop-color="#484bef"/><stop offset="0.1607" stop-color="#406cfe"/><stop offset="0.1631" stop-color="#3d71ff"/><stop offset="0.1786" stop-color="#327bfc"/><stop offset="0.1964" stop-color="#2e87f7"/><stop offset="0.2059" stop-color="#2d8df2"/><stop offset="0.2143" stop-color="#2c8ef1"/><stop offset="0.2321" stop-color="#2b91ef"/><stop offset="0.2500" stop-color="#2a93ed"/><stop offset="0.2679" stop-color="#2896eb"/><stop offset="0.2857" stop-color="#2698ea"/><stop offset="0.2861" stop-color="#2699ea"/><stop offset="0.3036" stop-color="#2797eb"/><stop offset="0.3214" stop-color="#2895ec"/><stop offset="0.3393" stop-color="#2994ed"/><stop offset="0.3571" stop-color="#2b92ee"/><stop offset="0.3663" stop-color="#2b91ef"/><stop offset="0.3750" stop-color="#2a92ee"/><stop offset="0.3929" stop-color="#2995ec"/><stop offset="0.4107" stop-color="#2797ea"/><stop offset="0.4198" stop-color="#2699ea"/><stop offset="0.4286" stop-color="#249fe5"/><stop offset="0.4464" stop-color="#19acdc"/><stop offset="0.4572" stop-color="#0db3d3"/><stop offset="0.4643" stop-color="#01b9c7"/><stop offset="0.4821" stop-color="#2fc5a3"/><stop offset="0.4840" stop-color="#32c69f"/><stop offset="0.5000" stop-color="#3fca8e"/><stop offset="0.5179" stop-color="#59cc78"/><stop offset="0.5267" stop-color="#67cd6d"/><stop offset="0.5357" stop-color="#6dcd67"/><stop offset="0.5536" stop-color="#7bcc5d"/><stop offset="0.5695" stop-color="#87cb54"/><stop offset="0.5714" stop-color="#92ca4b"/><stop offset="0.5893" stop-color="#d7be28"/><stop offset="0.5909" stop-color="#dcbd29"/><stop offset="0.6070" stop-color="#fec13a"/><stop offset="0.6071" stop-color="#fec13a"/><stop offset="0.6250" stop-color="#f5e725"/><stop offset="0.6283" stop-color="#f5ee21"/><stop offset="0.6390" stop-color="#f9fb15"/><stop offset="0.8690" stop-color="#f9fb15"/><stop offset="0.8750" stop-color="#f5ec22"/><stop offset="0.8850" stop-color="#fbd32f"/><stop offset="0.8929" stop-color="#fec338"/><stop offset="0.8984" stop-color="#f7ba3c"/><stop offset="0.9107" stop-color="#77cc60"/><stop offset="0.9118" stop-color="#67cd6d"/><stop offset="0.9225" stop-color="#01b8ca"/><stop offset="0.9278" stop-color="#dcbd29"/><stop offset="0.9286" stop-color="#f0ba36"/><stop offset="0.9321" stop-color="#f6e028"/><stop offset="0.9364" stop-color="#9cc944"/><stop offset="0.9412" stop-color="#2699ea"/><stop offset="0.9464" stop-color="#347afd"/><stop offset="0.9545" stop-color="#4849ed"/><stop offset="0.9643" stop-color="#3f29b1"/><stop offset="0.9652" stop-color="#3e26a8"/><stop offset="0.9821" stop-color="#3f29b1"/><stop offset="1.0000" stop-color="#412cba"/></linearGradient>
<linearGradient id="gl9" x1="0" x2="1" y1="0" y2="0"><stop offset="0.0000" stop-color="#3e26a8"/><stop offset="0.1086" stop-color="#3e26a8"/><stop offset="0.1166" stop-color="#4851f4"/><stop offset="0.1250" stop-color="#406cfe"/><stop offset="0.1326" stop-color="#2e85f8"/><stop offset="0.1429" stop-color="#0fb2d4"/><stop offset="0.1487" stop-color="#21c1b0"/><stop offset="0.1607" stop-color="#62cd70"/><stop offset="0.1701" stop-color="#b0c636"/><stop offset="0.1786" stop-color="#c4c22b"/><stop offset="0.1964" stop-color="#f0ba36"/><stop offset="0.2021" stop-color="#fabc3d"/><stop offset="0.2143" stop-color="#fdbd3d"/><stop offset="0.2289" stop-color="#fec13a"/><stop offset="0.2321" stop-color="#fec934"/><stop offset="0.2449" stop-color="#f5ee21"/><stop offset="0.2500" stop-color="#f7f41c"/><stop offset="0.2556" stop-color="#f9fb15"/><stop offset="0.3786" stop-color="#f9fb15"/><stop offset="0.3929" stop-color="#f9d72c"/><stop offset="0.3947" stop-color="#fbd32f"/><stop offset="0.4107" stop-color="#f7ba3c"/><stop offset="0.4107" stop-color="#f7ba3c"/><stop offset="0.4286" stop-color="#b3c534"/><stop offset="0.4321" stop-color="#9cc944"/><stop offset="0.4464" stop-color="#63cd70"/><stop offset="0.4588" stop-color="#3bc992"/><stop offset="0.4643" stop-color="#38c896"/><stop offset="0.4821" stop-color="#31c6a0"/><stop offset="0.5000" stop-color="#29c3aa"/><stop offset="0.5123" stop-color="#21c1b0"/><stop offset="0.5179" stop-color="#05bbc1"/><stop offset="0.5357" stop-color="#249fe5"/><stop offset="0.5390" stop-color="#2699ea"/><stop offset="0.5536" stop-color="#3578fd"/><stop offset="0.5658" stop-color="#475dfa"/><stop offset="0.5714" stop-color="#484cf0"/><stop offset="0.5818" stop-color="#422fc3"/><stop offset="0.5893" stop-color="#422ec0"/><stop offset="0.6071" stop-color="#412cb9"/><stop offset="0.6250" stop-color="#3f29b1"/><stop offset="0.6429" stop-color="#3e27aa"/><stop offset="0.6460" stop-color="#3e26a8"/><stop offset="0.6607" stop-color="#3f29b0"/><stop offset="0.6786" stop-color="#412cb9"/><stop offset="0.6964" stop-color="#422fc1"/><stop offset="0.6995" stop-color="#422fc3"/><stop offset="0.7143" stop-color="#4434ce"/><stop offset="0.7321" stop-color="#4639da"/><stop offset="0.7500" stop-color="#4740e3"/><stop offset="0.7529" stop-color="#4741e5"/><stop offset="0.7679" stop-color="#4747ec"/><stop offset="0.7857" stop-color="#484ff2"/><stop offset="0.7904" stop-color="#4851f4"/><stop offset="0.8036" stop-color="#4758f8"/><stop offset="0.8214" stop-color="#4562fc"/><stop offset="0.8332" stop-color="#4368fe"/><stop offset="0.8393" stop-color="#416cfe"/><stop offset="0.8571" stop-color="#3876fe"/><stop offset="0.8750" stop-color="#307ffb"/><stop offset="0.8866" stop-color="#2e85f8"/><stop offset="0.8929" stop-color="#3876fe"/><stop offset="0.9080" stop-color="#4851f4"/><stop offset="0.9107" stop-color="#4745e9"/><stop offset="0.9187" stop-color="#3e26a8"/><stop offset="1.0000" stop-color="#3e26a8"/></linearGradient>
<linearGradient id="gr9" x1="0" x2="1" y1="0" y2="0"><stop offset="0.0000" stop-color="#3e26a8"/><stop offset="0.1364" stop-color="#3e26a8"/><stop offset="0.1429" stop-color="#4639da"/><stop offset="0.1471" stop-color="#4849ed"/><stop offset="0.1607" stop-color="#4562fc"/><stop offset="0.1684" stop-color="#3d71ff"/><stop offset="0.1786" stop-color="#3975fe"/><stop offset="0.1964" stop-color="#327cfc"/><stop offset="0.2143" stop-color="#2f82f9"/><stop offset="0.2219" stop-color="#2e85f8"/><stop offset="0.2321" stop-color="#2d89f5"/><stop offset="0.2500" stop-color="#2c8ff0"/><stop offset="0.2679" stop-color="#2896eb"/><stop offset="0.2754" stop-color="#2699ea"/><stop offset="0.3289" stop-color="#2699ea"/><stop offset="0.3393" stop-color="#2e85f8"/><stop offset="0.3503" stop-color="#3d71ff"/><stop offset="0.3571" stop-color="#4852f4"/><stop offset="0.3636" stop-color="#4536d3"/><stop offset="0.3717" stop-color="#3e26a8"/><stop offset="0.4572" stop-color="#3e26a8"/><stop offset="0.4643" stop-color="#463bde"/><stop offset="0.4679" stop-color="#4849ed"/><stop offset="0.4821" stop-color="#3a73fe"/><stop offset="0.4840" stop-color="#3579fd"/><stop offset="0.5000" stop-color="#2d89f5"/><stop offset="0.5160" stop-color="#2699ea"/><stop offset="0.5179" stop-color="#259be8"/><stop offset="0.5357" stop-color="#12b1d6"/><stop offset="0.5428" stop-color="#01b8ca"/><stop offset="0.5536" stop-color="#19bfb5"/><stop offset="0.5695" stop-color="#3bc992"/><stop offset="0.5714" stop-color="#48cb86"/><stop offset="0.5856" stop-color="#c1c32d"/><stop offset="0.5893" stop-color="#d3bf27"/><stop offset="0.6016" stop-color="#fec636"/><stop offset="0.6071" stop-color="#fbd32e"/><stop offset="0.6176" stop-color="#f5ee21"/><stop offset="0.6250" stop-color="#f8f719"/><stop offset="0.6283" stop-color="#f9fb15"/><stop offset="0.8636" stop-color="#f9fb15"/><stop offset="0.8750" stop-color="#f5e825"/><stop offset="0.8797" stop-color="#f6e028"/><stop offset="0.8929" stop-color="#fec636"/><stop offset="0.8957" stop-color="#fec13a"/><stop offset="0.9107" stop-color="#a8c73b"/><stop offset="0.9118" stop-color="#9cc944"/><stop offset="0.9278" stop-color="#21c1b0"/><stop offset="0.9286" stop-color="#20c1b1"/><stop offset="0.9464" stop-color="#03bbc2"/><stop offset="0.9545" stop-color="#01b8ca"/><stop offset="0.9643" stop-color="#17aeda"/><stop offset="0.9813" stop-color="#2699ea"/><stop offset="0.9821" stop-color="#2797eb"/><stop offset="1.0000" stop-color="#3d71ff"/></linearGradient>
<linearGradient id="gl10" x1="0" x2="1" y1="0" y2="0"><stop offset="0.0000" stop-color="#3e26a8"/><stop offset="0.1112" stop-color="#3e26a8"/><stop offset="0.1193" stop-color="#4851f4"/><stop offset="0.1250" stop-color="#406cfe"/><stop offset="0.1299" stop-color="#2e85f8"/><stop offset="0.1380" stop-color="#9cc944"/><stop offset="0.1429" stop-color="#c3c22b"/><stop offset="0.1540" stop-color="#fec13a"/><stop offset="0.1607" stop-color="#fec03b"/><stop offset="0.1786" stop-color="#fdbd3d"/><stop offset="0.1914" stop-color="#fabc3d"/><stop offset="0.1964" stop-color="#fec239"/><stop offset="0.2143" stop-color="#f7db2b"/><stop offset="0.2182" stop-color="#f6e028"/><stop offset="0.2321" stop-color="#f8f718"/><stop offset="0.2342" stop-color="#f9fb15"/><stop offset="0.3198" stop-color="#f9fb15"/><stop offset="0.3214" stop-color="#f8f818"/><stop offset="0.3358" stop-color="#f6e028"/><stop offset="0.3393" stop-color="#f6df29"/><stop offset="0.3519" stop-color="#f7db2b"/><stop offset="0.3571" stop-color="#f8d92b"/><stop offset="0.3750" stop-color="#fad52e"/><stop offset="0.3840" stop-color="#fbd32f"/><stop offset="0.3929" stop-color="#fdbd3d"/><stop offset="0.4000" stop-color="#dcbd29"/><stop offset="0.4107" stop-color="#78cc5f"/><stop offset="0.4160" stop-color="#3bc992"/><stop offset="0.4286" stop-color="#0ebdbb"/><stop offset="0.4374" stop-color="#0db3d3"/><stop offset="0.4464" stop-color="#1da9e0"/><stop offset="0.4588" stop-color="#2699ea"/><stop offset="0.4643" stop-color="#2e84f8"/><stop offset="0.4802" stop-color="#4849ed"/><stop offset="0.4821" stop-color="#4745ea"/><stop offset="0.5000" stop-color="#3f28af"/><stop offset="0.5016" stop-color="#3e26a8"/><stop offset="0.5658" stop-color="#3e26a8"/><stop offset="0.5714" stop-color="#3f28af"/><stop offset="0.5893" stop-color="#4230c4"/><stop offset="0.6032" stop-color="#4536d3"/><stop offset="0.6071" stop-color="#4538d7"/><stop offset="0.6250" stop-color="#4743e7"/><stop offset="0.6353" stop-color="#4849ed"/><stop offset="0.6429" stop-color="#4747ec"/><stop offset="0.6607" stop-color="#4744e8"/><stop offset="0.6727" stop-color="#4741e5"/><stop offset="0.6786" stop-color="#4848ec"/><stop offset="0.6964" stop-color="#475bfa"/><stop offset="0.7143" stop-color="#3e6fff"/><stop offset="0.7155" stop-color="#3d71ff"/><stop offset="0.7321" stop-color="#3b73fe"/><stop offset="0.7500" stop-color="#3875fe"/><stop offset="0.7679" stop-color="#3678fe"/><stop offset="0.7797" stop-color="#3579fd"/><stop offset="0.7857" stop-color="#3578fd"/><stop offset="0.8036" stop-color="#3875fe"/><stop offset="0.8214" stop-color="#3b73fe"/><stop offset="0.8332" stop-color="#3d71ff"/><stop offset="0.8393" stop-color="#484ff2"/><stop offset="0.8439" stop-color="#4536d3"/><stop offset="0.8545" stop-color="#3e26a8"/><stop offset="1.0000" stop-color="#3e26a8"/></linearGradient>
<linearGradient id="gr10" x1="0" x2="1" y1="0" y2="0"><stop offset="0.0000" stop-color="#3e26a8"/><stop offset="0.1658" stop-color="#3e26a8"/><stop offset="0.1738" stop-color="#4849ed"/><stop offset="0.1786" stop-color="#4755f6"/><stop offset="0.1898" stop-color="#3d71ff"/><stop offset="0.1964" stop-color="#327cfc"/><stop offset="0.2143" stop-color="#2798ea"/><stop offset="0.2219" stop-color="#21a3e3"/><stop offset="0.2321" stop-color="#23a0e5"/><stop offset="0.2500" stop-color="#269ae9"/><stop offset="0.2540" stop-color="#2699ea"/><stop offset="0.2679" stop-color="#307ffb"/><stop offset="0.2754" stop-color="#3d71ff"/><stop offset="0.2857" stop-color="#4757f7"/><stop offset="0.2914" stop-color="#4849ed"/><stop offset="0.3128" stop-color="#4849ed"/><stop offset="0.3214" stop-color="#463cdf"/><stop offset="0.3342" stop-color="#412cba"/><stop offset="0.3393" stop-color="#412cba"/><stop offset="0.3571" stop-color="#402bb8"/><stop offset="0.3750" stop-color="#402bb6"/><stop offset="0.3929" stop-color="#402ab5"/><stop offset="0.4107" stop-color="#402ab3"/><stop offset="0.4286" stop-color="#3f29b1"/><stop offset="0.4464" stop-color="#3f29af"/><stop offset="0.4643" stop-color="#3f28ae"/><stop offset="0.4821" stop-color="#3e27ac"/><stop offset="0.5000" stop-color="#3e27aa"/><stop offset="0.5160" stop-color="#3e26a8"/><stop offset="0.5179" stop-color="#3f29b1"/><stop offset="0.5321" stop-color="#4741e5"/><stop offset="0.5357" stop-color="#4745e9"/><stop offset="0.5536" stop-color="#4757f8"/><stop offset="0.5588" stop-color="#475dfa"/><stop offset="0.5714" stop-color="#2f81fa"/><stop offset="0.5802" stop-color="#2699ea"/><stop offset="0.5893" stop-color="#22a2e4"/><stop offset="0.6070" stop-color="#0db3d3"/><stop offset="0.6071" stop-color="#0db3d3"/><stop offset="0.6250" stop-color="#02bbc3"/><stop offset="0.6429" stop-color="#1fc0b2"/><stop offset="0.6444" stop-color="#21c1b0"/><stop offset="0.6604" stop-color="#67cd6d"/><stop offset="0.6607" stop-color="#6bcd69"/><stop offset="0.6711" stop-color="#dcbd29"/><stop offset="0.6786" stop-color="#f5ba3a"/><stop offset="0.6872" stop-color="#fec636"/><stop offset="0.6964" stop-color="#f7dc2a"/><stop offset="0.7032" stop-color="#f5ee21"/><stop offset="0.7139" stop-color="#f9fb15"/><stop offset="0.8636" stop-color="#f9fb15"/><stop offset="0.8750" stop-color="#f6de29"/><stop offset="0.8797" stop-color="#fbd32f"/><stop offset="0.8929" stop-color="#fdbd3d"/><stop offset="0.8957" stop-color="#f7ba3c"/><stop offset="0.9107" stop-color="#ebba32"/><stop offset="0.9278" stop-color="#dcbd29"/><stop offset="0.9286" stop-color="#dcbd29"/><stop offset="0.9464" stop-color="#d4bf27"/><stop offset="0.9545" stop-color="#d0c027"/><stop offset="0.9643" stop-color="#73cd63"/><stop offset="0.9652" stop-color="#67cd6d"/><stop offset="0.9813" stop-color="#1caadf"/><stop offset="0.9821" stop-color="#1ca9df"/><stop offset="1.0000" stop-color="#2699ea"/></linearGradient>
<linearGradient id="gl11" x1="0" x2="1" y1="0" y2="0"><stop offset="0.0000" stop-color="#3e26a8"/><stop offset="0.0845" stop-color="#3e26a8"/><stop offset="0.0893" stop-color="#463ee1"/><stop offset="0.0925" stop-color="#4851f4"/><stop offset="0.1059" stop-color="#2e85f8"/><stop offset="0.1071" stop-color="#2d8af5"/><stop offset="0.1219" stop-color="#01b8ca"/><stop offset="0.1250" stop-color="#07bcbf"/><stop offset="0.1429" stop-color="#63cd6f"/><stop offset="0.1433" stop-color="#67cd6d"/><stop offset="0.1607" stop-color="#a3c83f"/><stop offset="0.1647" stop-color="#b0c636"/><stop offset="0.1786" stop-color="#eeba34"/><stop offset="0.1807" stop-color="#f7ba3c"/><stop offset="0.1964" stop-color="#f5ed22"/><stop offset="0.1968" stop-color="#f5ee21"/><stop offset="0.2075" stop-color="#f9fb15"/><stop offset="0.3251" stop-color="#f9fb15"/><stop offset="0.3393" stop-color="#f9d72c"/><stop offset="0.3412" stop-color="#fbd32f"/><stop offset="0.3571" stop-color="#fec13a"/><stop offset="0.3626" stop-color="#fabc3d"/><stop offset="0.3750" stop-color="#b9c430"/><stop offset="0.3786" stop-color="#9cc944"/><stop offset="0.3929" stop-color="#08bcbf"/><stop offset="0.3947" stop-color="#01b8ca"/><stop offset="0.4107" stop-color="#2e85f8"/><stop offset="0.4160" stop-color="#3d71ff"/><stop offset="0.4286" stop-color="#465efb"/><stop offset="0.4374" stop-color="#4851f4"/><stop offset="0.4464" stop-color="#475af9"/><stop offset="0.4643" stop-color="#416bfe"/><stop offset="0.4695" stop-color="#3d71ff"/><stop offset="0.4821" stop-color="#337bfd"/><stop offset="0.5000" stop-color="#2d88f6"/><stop offset="0.5123" stop-color="#2b91ef"/><stop offset="0.5179" stop-color="#2c8ff0"/><stop offset="0.5357" stop-color="#2d89f5"/><stop offset="0.5497" stop-color="#2e85f8"/><stop offset="0.5536" stop-color="#3777fe"/><stop offset="0.5658" stop-color="#4849ed"/><stop offset="0.5714" stop-color="#463bdd"/><stop offset="0.5818" stop-color="#3e26a8"/><stop offset="0.6727" stop-color="#3e26a8"/><stop offset="0.6786" stop-color="#4331c8"/><stop offset="0.6888" stop-color="#4849ed"/><stop offset="0.6964" stop-color="#465efb"/><stop offset="0.7102" stop-color="#2e85f8"/><stop offset="0.7143" stop-color="#2e87f7"/><stop offset="0.7321" stop-color="#2c8ff0"/><stop offset="0.7500" stop-color="#2797ea"/><stop offset="0.7529" stop-color="#2699ea"/><stop offset="0.7679" stop-color="#2896eb"/><stop offset="0.7857" stop-color="#2a93ee"/><stop offset="0.7957" stop-color="#2b91ef"/><stop offset="0.8036" stop-color="#3777fe"/><stop offset="0.8171" stop-color="#4849ed"/><stop offset="0.8214" stop-color="#473ee1"/><stop offset="0.8332" stop-color="#3e26a8"/><stop offset="1.0000" stop-color="#3e26a8"/></linearGradient>
<linearGradient id="gr11" x1="0" x2="1" y1="0" y2="0"><stop offset="0.0000" stop-color="#3e26a8"/><stop offset="0.1791" stop-color="#3e26a8"/><stop offset="0.1872" stop-color="#4849ed"/><stop offset="0.1964" stop-color="#475dfa"/><stop offset="0.2059" stop-color="#3d71ff"/><stop offset="0.2143" stop-color="#3a73fe"/><stop offset="0.2321" stop-color="#3579fd"/><stop offset="0.2326" stop-color="#3579fd"/><stop offset="0.2487" stop-color="#4849ed"/><stop offset="0.2754" stop-color="#4849ed"/><stop offset="0.2857" stop-color="#484ff2"/><stop offset="0.3036" stop-color="#4758f8"/><stop offset="0.3128" stop-color="#475dfa"/><stop offset="0.3214" stop-color="#4759f8"/><stop offset="0.3393" stop-color="#4851f4"/><stop offset="0.3396" stop-color="#4851f4"/><stop offset="0.3503" stop-color="#412cba"/><stop offset="0.3571" stop-color="#412cb9"/><stop offset="0.3750" stop-color="#402ab5"/><stop offset="0.3929" stop-color="#3f29b2"/><stop offset="0.4107" stop-color="#3f28ae"/><stop offset="0.4286" stop-color="#3e27aa"/><stop offset="0.4358" stop-color="#3e26a8"/><stop offset="0.4464" stop-color="#4332cb"/><stop offset="0.4519" stop-color="#4639da"/><stop offset="0.4643" stop-color="#4537d5"/><stop offset="0.4679" stop-color="#4536d3"/><stop offset="0.4821" stop-color="#3f28ae"/><stop offset="0.4840" stop-color="#3e26a8"/><stop offset="0.5428" stop-color="#3e26a8"/><stop offset="0.5536" stop-color="#4849ed"/><stop offset="0.5588" stop-color="#475dfa"/><stop offset="0.5714" stop-color="#2f81fa"/><stop offset="0.5802" stop-color="#2699ea"/><stop offset="0.5893" stop-color="#239fe5"/><stop offset="0.6071" stop-color="#19acdc"/><stop offset="0.6176" stop-color="#0db3d3"/><stop offset="0.6250" stop-color="#07b5cf"/><stop offset="0.6429" stop-color="#02bac4"/><stop offset="0.6497" stop-color="#06bcc0"/><stop offset="0.6607" stop-color="#24c1af"/><stop offset="0.6765" stop-color="#3bc992"/><stop offset="0.6786" stop-color="#50cc80"/><stop offset="0.6925" stop-color="#dcbd29"/><stop offset="0.6964" stop-color="#eaba31"/><stop offset="0.7086" stop-color="#fec636"/><stop offset="0.7143" stop-color="#f7db2b"/><stop offset="0.7193" stop-color="#f5ee21"/><stop offset="0.7299" stop-color="#f9fb15"/><stop offset="0.8529" stop-color="#f9fb15"/><stop offset="0.8571" stop-color="#f5eb23"/><stop offset="0.8636" stop-color="#fbd32f"/><stop offset="0.8743" stop-color="#dcbd29"/><stop offset="0.8750" stop-color="#dcbd29"/><stop offset="0.8929" stop-color="#c8c129"/><stop offset="0.9011" stop-color="#c1c32d"/><stop offset="0.9107" stop-color="#aac73a"/><stop offset="0.9278" stop-color="#67cd6d"/><stop offset="0.9286" stop-color="#64cd6f"/><stop offset="0.9464" stop-color="#32c69f"/><stop offset="0.9545" stop-color="#21c1b0"/><stop offset="0.9643" stop-color="#0cb3d3"/><stop offset="0.9759" stop-color="#2699ea"/><stop offset="0.9821" stop-color="#2f82fa"/><stop offset="0.9920" stop-color="#475dfa"/><stop offset="1.0000" stop-color="#4849ed"/></linearGradient>
<linearGradient id="gl12" x1="0" x2="1" y1="0" y2="0"><stop offset="0.0000" stop-color="#3e26a8"/><stop offset="0.0578" stop-color="#3e26a8"/><stop offset="0.0658" stop-color="#475dfa"/><stop offset="0.0714" stop-color="#3b73fe"/><stop offset="0.0791" stop-color="#2b91ef"/><stop offset="0.0893" stop-color="#0ab4d1"/><stop offset="0.1005" stop-color="#3bc992"/><stop offset="0.1071" stop-color="#53cc7d"/><stop offset="0.1250" stop-color="#a6c83d"/><stop offset="0.1273" stop-color="#b0c636"/><stop offset="0.1429" stop-color="#c8c129"/><stop offset="0.1487" stop-color="#d0c027"/><stop offset="0.1607" stop-color="#fec835"/><stop offset="0.1647" stop-color="#fbd32f"/><stop offset="0.1786" stop-color="#f7f61a"/><stop offset="0.1807" stop-color="#f9fb15"/><stop offset="0.3144" stop-color="#f9fb15"/><stop offset="0.3214" stop-color="#f5e427"/><stop offset="0.3305" stop-color="#fec636"/><stop offset="0.3393" stop-color="#febf3b"/><stop offset="0.3519" stop-color="#f2ba38"/><stop offset="0.3571" stop-color="#f9bb3d"/><stop offset="0.3733" stop-color="#fec636"/><stop offset="0.3750" stop-color="#fec934"/><stop offset="0.3929" stop-color="#f5ea23"/><stop offset="0.3947" stop-color="#f5ee21"/><stop offset="0.4107" stop-color="#f6e028"/><stop offset="0.4107" stop-color="#f6e028"/><stop offset="0.4267" stop-color="#dcbd29"/><stop offset="0.4286" stop-color="#cbc029"/><stop offset="0.4428" stop-color="#21c1b0"/><stop offset="0.4464" stop-color="#0cbdbc"/><stop offset="0.4588" stop-color="#1caadf"/><stop offset="0.4643" stop-color="#259de7"/><stop offset="0.4802" stop-color="#3d71ff"/><stop offset="0.4821" stop-color="#3f6eff"/><stop offset="0.5000" stop-color="#4758f8"/><stop offset="0.5123" stop-color="#4849ed"/><stop offset="0.5179" stop-color="#4848ec"/><stop offset="0.5357" stop-color="#4745e9"/><stop offset="0.5536" stop-color="#4741e5"/><stop offset="0.5551" stop-color="#4741e5"/><stop offset="0.5711" stop-color="#3e26a8"/><stop offset="0.6888" stop-color="#3e26a8"/><stop offset="0.6964" stop-color="#4435d1"/><stop offset="0.7048" stop-color="#4849ed"/><stop offset="0.7143" stop-color="#406cfe"/><stop offset="0.7262" stop-color="#2699ea"/><stop offset="0.7321" stop-color="#259ce7"/><stop offset="0.7500" stop-color="#1fa5e2"/><stop offset="0.7679" stop-color="#17aedb"/><stop offset="0.7797" stop-color="#0db3d3"/><stop offset="0.7857" stop-color="#0fb2d5"/><stop offset="0.8036" stop-color="#15afd9"/><stop offset="0.8214" stop-color="#1aacdd"/><stop offset="0.8332" stop-color="#1caadf"/><stop offset="0.8393" stop-color="#259be8"/><stop offset="0.8545" stop-color="#3d71ff"/><stop offset="0.8571" stop-color="#4465fd"/><stop offset="0.8679" stop-color="#4536d3"/><stop offset="0.8750" stop-color="#3f28ae"/><stop offset="0.8759" stop-color="#3e26a8"/><stop offset="1.0000" stop-color="#3e26a8"/></linearGradient>
<linearGradient id="gr12" x1="0" x2="1" y1="0" y2="0"><stop offset="0.0000" stop-color="#3e26a8"/><stop offset="0.1898" stop-color="#3e26a8"/><stop offset="0.1964" stop-color="#4330c5"/><stop offset="0.2059" stop-color="#4741e5"/><stop offset="0.2143" stop-color="#4850f3"/><stop offset="0.2321" stop-color="#3e70ff"/><stop offset="0.2326" stop-color="#3d71ff"/><stop offset="0.2500" stop-color="#317dfc"/><stop offset="0.2679" stop-color="#2d88f6"/><stop offset="0.2754" stop-color="#2d8df2"/><stop offset="0.2857" stop-color="#2e87f7"/><stop offset="0.3036" stop-color="#327cfc"/><stop offset="0.3075" stop-color="#3579fd"/><stop offset="0.3214" stop-color="#4660fb"/><stop offset="0.3342" stop-color="#4849ed"/><stop offset="0.3393" stop-color="#463cdf"/><stop offset="0.3503" stop-color="#3e26a8"/><stop offset="0.4679" stop-color="#3e26a8"/><stop offset="0.4821" stop-color="#412dbc"/><stop offset="0.5000" stop-color="#4536d3"/><stop offset="0.5374" stop-color="#4536d3"/><stop offset="0.5535" stop-color="#475dfa"/><stop offset="0.5536" stop-color="#465dfa"/><stop offset="0.5714" stop-color="#2c8ff0"/><stop offset="0.5749" stop-color="#2699ea"/><stop offset="0.5893" stop-color="#1aabdd"/><stop offset="0.6070" stop-color="#06bcc0"/><stop offset="0.6071" stop-color="#07bcbf"/><stop offset="0.6250" stop-color="#53cc7d"/><stop offset="0.6283" stop-color="#67cd6d"/><stop offset="0.6429" stop-color="#c1c32c"/><stop offset="0.6497" stop-color="#dcbd29"/><stop offset="0.6607" stop-color="#f2ba38"/><stop offset="0.6711" stop-color="#fec13a"/><stop offset="0.6786" stop-color="#fec239"/><stop offset="0.6964" stop-color="#fec537"/><stop offset="0.7032" stop-color="#fec636"/><stop offset="0.7143" stop-color="#f5e128"/><stop offset="0.7193" stop-color="#f5ee21"/><stop offset="0.7299" stop-color="#f9fb15"/><stop offset="0.8957" stop-color="#f9fb15"/><stop offset="0.9064" stop-color="#fec636"/><stop offset="0.9107" stop-color="#fabc3d"/><stop offset="0.9225" stop-color="#c1c32d"/><stop offset="0.9286" stop-color="#a8c73b"/><stop offset="0.9385" stop-color="#67cd6d"/><stop offset="0.9464" stop-color="#4bcb84"/><stop offset="0.9643" stop-color="#24c1ae"/><stop offset="0.9652" stop-color="#21c1b0"/><stop offset="0.9821" stop-color="#03bbc2"/><stop offset="1.0000" stop-color="#0db3d3"/></linearGradient>
<linearGradient id="gl13" x1="0" x2="1" y1="0" y2="0"><stop offset="0.0000" stop-color="#3e26a8"/><stop offset="0.0417" stop-color="#3e26a8"/><stop offset="0.0497" stop-color="#475dfa"/><stop offset="0.0536" stop-color="#4465fd"/><stop offset="0.0714" stop-color="#2d8cf3"/><stop offset="0.0738" stop-color="#2b91ef"/><stop offset="0.0893" stop-color="#21a3e4"/><stop offset="0.1059" stop-color="#0db3d3"/><stop offset="0.1071" stop-color="#07b5d0"/><stop offset="0.1250" stop-color="#3cc991"/><stop offset="0.1326" stop-color="#67cd6d"/><stop offset="0.1429" stop-color="#bec32e"/><stop offset="0.1487" stop-color="#dcbd29"/><stop offset="0.1607" stop-color="#f4ba3a"/><stop offset="0.1701" stop-color="#fec13a"/><stop offset="0.1786" stop-color="#fec239"/><stop offset="0.1964" stop-color="#fec537"/><stop offset="0.2021" stop-color="#fec636"/><stop offset="0.2143" stop-color="#f9d72c"/><stop offset="0.2289" stop-color="#f5ee21"/><stop offset="0.2321" stop-color="#f6f01f"/><stop offset="0.2449" stop-color="#f9fb15"/><stop offset="0.3412" stop-color="#f9fb15"/><stop offset="0.3571" stop-color="#fec636"/><stop offset="0.3572" stop-color="#fec636"/><stop offset="0.3733" stop-color="#dcbd29"/><stop offset="0.3750" stop-color="#cfc028"/><stop offset="0.3893" stop-color="#3bc992"/><stop offset="0.3929" stop-color="#34c79b"/><stop offset="0.4107" stop-color="#06bcc0"/><stop offset="0.4214" stop-color="#0db3d3"/><stop offset="0.4286" stop-color="#16afda"/><stop offset="0.4464" stop-color="#22a2e4"/><stop offset="0.4588" stop-color="#2699ea"/><stop offset="0.4643" stop-color="#2b92ee"/><stop offset="0.4821" stop-color="#327cfc"/><stop offset="0.4909" stop-color="#3d71ff"/><stop offset="0.5000" stop-color="#4660fb"/><stop offset="0.5123" stop-color="#4849ed"/><stop offset="0.5179" stop-color="#463ee1"/><stop offset="0.5283" stop-color="#412cba"/><stop offset="0.5357" stop-color="#412ebd"/><stop offset="0.5536" stop-color="#4331c6"/><stop offset="0.5658" stop-color="#4433cb"/><stop offset="0.5714" stop-color="#4330c5"/><stop offset="0.5893" stop-color="#3f29b2"/><stop offset="0.5979" stop-color="#3e26a8"/><stop offset="0.7102" stop-color="#3e26a8"/><stop offset="0.7143" stop-color="#4332ca"/><stop offset="0.7209" stop-color="#4849ed"/><stop offset="0.7321" stop-color="#3b73fe"/><stop offset="0.7369" stop-color="#2e85f8"/><stop offset="0.7636" stop-color="#2e85f8"/><stop offset="0.7679" stop-color="#3677fe"/><stop offset="0.7797" stop-color="#4851f4"/><stop offset="0.7857" stop-color="#4848ec"/><stop offset="0.8011" stop-color="#4433cb"/><stop offset="0.8036" stop-color="#4332c8"/><stop offset="0.8214" stop-color="#402bb6"/><stop offset="0.8332" stop-color="#3e26a8"/><stop offset="1.0000" stop-color="#3e26a8"/></linearGradient>
<linearGradient id="gr13" x1="0" x2="1" y1="0" y2="0"><stop offset="0.0000" stop-color="#3e26a8"/><stop offset="0.1952" stop-color="#3e26a8"/><stop offset="0.1964" stop-color="#3f29b1"/><stop offset="0.2059" stop-color="#4741e5"/><stop offset="0.2143" stop-color="#484aee"/><stop offset="0.2321" stop-color="#475cfa"/><stop offset="0.2326" stop-color="#475dfa"/><stop offset="0.2500" stop-color="#4563fd"/><stop offset="0.2679" stop-color="#426afe"/><stop offset="0.2857" stop-color="#3d71ff"/><stop offset="0.3396" stop-color="#3d71ff"/><stop offset="0.3556" stop-color="#4849ed"/><stop offset="0.3571" stop-color="#4745e9"/><stop offset="0.3717" stop-color="#3e26a8"/><stop offset="0.4465" stop-color="#3e26a8"/><stop offset="0.4626" stop-color="#4741e5"/><stop offset="0.4643" stop-color="#4742e6"/><stop offset="0.4821" stop-color="#484df0"/><stop offset="0.4893" stop-color="#4851f4"/><stop offset="0.5000" stop-color="#3a74fe"/><stop offset="0.5053" stop-color="#2e85f8"/><stop offset="0.5179" stop-color="#2c90f0"/><stop offset="0.5357" stop-color="#249ee6"/><stop offset="0.5428" stop-color="#21a3e3"/><stop offset="0.5536" stop-color="#23a0e5"/><stop offset="0.5714" stop-color="#269ae9"/><stop offset="0.5749" stop-color="#2699ea"/><stop offset="0.5893" stop-color="#317efb"/><stop offset="0.5963" stop-color="#3d71ff"/><stop offset="0.6071" stop-color="#2e87f7"/><stop offset="0.6123" stop-color="#2b91ef"/><stop offset="0.6250" stop-color="#1fa6e2"/><stop offset="0.6390" stop-color="#01b8ca"/><stop offset="0.6429" stop-color="#0bbdbd"/><stop offset="0.6604" stop-color="#67cd6d"/><stop offset="0.6607" stop-color="#68cd6b"/><stop offset="0.6786" stop-color="#b8c431"/><stop offset="0.6818" stop-color="#c1c32d"/><stop offset="0.6964" stop-color="#eaba31"/><stop offset="0.7032" stop-color="#fabc3d"/><stop offset="0.7143" stop-color="#fec13a"/><stop offset="0.7246" stop-color="#fec636"/><stop offset="0.7321" stop-color="#fec835"/><stop offset="0.7500" stop-color="#fdcd31"/><stop offset="0.7674" stop-color="#fbd32f"/><stop offset="0.7888" stop-color="#fbd32f"/><stop offset="0.8036" stop-color="#f8f818"/><stop offset="0.8048" stop-color="#f9fb15"/><stop offset="0.9278" stop-color="#f9fb15"/><stop offset="0.9286" stop-color="#f8f818"/><stop offset="0.9385" stop-color="#fbd32f"/><stop offset="0.9464" stop-color="#fec636"/><stop offset="0.9545" stop-color="#f7ba3c"/><stop offset="0.9643" stop-color="#d6be28"/><stop offset="0.9706" stop-color="#c1c32d"/><stop offset="0.9821" stop-color="#b6c532"/><stop offset="1.0000" stop-color="#9cc944"/></linearGradient>
<linearGradient id="gl14" x1="0" x2="1" y1="0" y2="0"><stop offset="0.0000" stop-color="#3e26a8"/><stop offset="0.0283" stop-color="#3e26a8"/><stop offset="0.0337" stop-color="#475dfa"/><stop offset="0.0357" stop-color="#4562fc"/><stop offset="0.0524" stop-color="#2d8df2"/><stop offset="0.0536" stop-color="#2c8ff1"/><stop offset="0.0714" stop-color="#20a5e2"/><stop offset="0.0845" stop-color="#0db3d3"/><stop offset="0.0893" stop-color="#01b9c7"/><stop offset="0.1059" stop-color="#3bc992"/><stop offset="0.1071" stop-color="#49cb85"/><stop offset="0.1193" stop-color="#dcbd29"/><stop offset="0.1250" stop-color="#fec13a"/><stop offset="0.1299" stop-color="#fbd32f"/><stop offset="0.1429" stop-color="#f9fa16"/><stop offset="0.1433" stop-color="#f9fb15"/><stop offset="0.3626" stop-color="#f9fb15"/><stop offset="0.3750" stop-color="#fec934"/><stop offset="0.3759" stop-color="#fec636"/><stop offset="0.3893" stop-color="#3bc992"/><stop offset="0.3929" stop-color="#12beb9"/><stop offset="0.4000" stop-color="#2699ea"/><stop offset="0.4107" stop-color="#307efb"/><stop offset="0.4160" stop-color="#3d71ff"/><stop offset="0.4286" stop-color="#2e84f9"/><stop offset="0.4428" stop-color="#2699ea"/><stop offset="0.4464" stop-color="#259de7"/><stop offset="0.4643" stop-color="#14b0d8"/><stop offset="0.4802" stop-color="#06bcc0"/><stop offset="0.4821" stop-color="#02bac3"/><stop offset="0.5000" stop-color="#1aacdd"/><stop offset="0.5016" stop-color="#1caadf"/><stop offset="0.5179" stop-color="#3080fb"/><stop offset="0.5230" stop-color="#3d71ff"/><stop offset="0.5357" stop-color="#416bfe"/><stop offset="0.5536" stop-color="#4562fc"/><stop offset="0.5658" stop-color="#475dfa"/><stop offset="0.5714" stop-color="#465efb"/><stop offset="0.5893" stop-color="#4562fc"/><stop offset="0.6071" stop-color="#4367fd"/><stop offset="0.6250" stop-color="#416bfe"/><stop offset="0.6429" stop-color="#3e70ff"/><stop offset="0.6460" stop-color="#3d71ff"/><stop offset="0.6607" stop-color="#3777fe"/><stop offset="0.6786" stop-color="#317dfb"/><stop offset="0.6964" stop-color="#2e84f9"/><stop offset="0.6995" stop-color="#2e85f8"/><stop offset="0.7143" stop-color="#2f82fa"/><stop offset="0.7321" stop-color="#317efb"/><stop offset="0.7500" stop-color="#347afd"/><stop offset="0.7529" stop-color="#3579fd"/><stop offset="0.7679" stop-color="#4562fc"/><stop offset="0.7797" stop-color="#4851f4"/><stop offset="0.7857" stop-color="#484df1"/><stop offset="0.8036" stop-color="#4742e6"/><stop offset="0.8118" stop-color="#463de0"/><stop offset="0.8214" stop-color="#4537d6"/><stop offset="0.8393" stop-color="#422fc0"/><stop offset="0.8439" stop-color="#412cba"/><stop offset="0.8571" stop-color="#3f28af"/><stop offset="0.8652" stop-color="#3e26a8"/><stop offset="1.0000" stop-color="#3e26a8"/></linearGradient>
<linearGradient id="gr14" x1="0" x2="1" y1="0" y2="0"><stop offset="0.0000" stop-color="#3e26a8"/><stop offset="0.2540" stop-color="#3e26a8"/><stop offset="0.2647" stop-color="#4741e5"/><stop offset="0.2679" stop-color="#484bee"/><stop offset="0.2807" stop-color="#3d71ff"/><stop offset="0.2857" stop-color="#337bfc"/><stop offset="0.3036" stop-color="#259ce7"/><stop offset="0.3075" stop-color="#21a3e3"/><stop offset="0.3214" stop-color="#1fa6e1"/><stop offset="0.3393" stop-color="#1caadf"/><stop offset="0.3396" stop-color="#1caadf"/><stop offset="0.3571" stop-color="#2d8cf3"/><stop offset="0.3610" stop-color="#2e85f8"/><stop offset="0.3750" stop-color="#4851f3"/><stop offset="0.3770" stop-color="#4849ed"/><stop offset="0.3877" stop-color="#3e26a8"/><stop offset="0.4786" stop-color="#3e26a8"/><stop offset="0.4821" stop-color="#402ab3"/><stop offset="0.5000" stop-color="#463de0"/><stop offset="0.5179" stop-color="#4331c8"/><stop offset="0.5214" stop-color="#422fc3"/><stop offset="0.5357" stop-color="#412dbc"/><stop offset="0.5536" stop-color="#402ab5"/><stop offset="0.5714" stop-color="#3e28ac"/><stop offset="0.5802" stop-color="#3e26a8"/><stop offset="0.5893" stop-color="#463cdf"/><stop offset="0.5909" stop-color="#4741e5"/><stop offset="0.6070" stop-color="#475dfa"/><stop offset="0.6071" stop-color="#465dfa"/><stop offset="0.6250" stop-color="#3f6dfe"/><stop offset="0.6429" stop-color="#307ffb"/><stop offset="0.6497" stop-color="#2e85f8"/><stop offset="0.6607" stop-color="#2a93ee"/><stop offset="0.6786" stop-color="#1ea7e1"/><stop offset="0.6818" stop-color="#1caadf"/><stop offset="0.6964" stop-color="#23c1af"/><stop offset="0.7032" stop-color="#3bc992"/><stop offset="0.7139" stop-color="#dcbd29"/><stop offset="0.7143" stop-color="#dfbc2a"/><stop offset="0.7246" stop-color="#fbd32f"/><stop offset="0.7321" stop-color="#f5e626"/><stop offset="0.7406" stop-color="#f9fb15"/><stop offset="0.8904" stop-color="#f9fb15"/><stop offset="0.8929" stop-color="#f6f11e"/><stop offset="0.9037" stop-color="#fec636"/><stop offset="0.9107" stop-color="#f1ba37"/><stop offset="0.9171" stop-color="#d0c027"/><stop offset="0.9286" stop-color="#8ecb4e"/><stop offset="0.9332" stop-color="#67cd6d"/><stop offset="0.9464" stop-color="#34c79c"/><stop offset="0.9599" stop-color="#06bcc0"/><stop offset="0.9643" stop-color="#03bbc2"/><stop offset="0.9821" stop-color="#02b7cb"/><stop offset="1.0000" stop-color="#0db3d3"/></linearGradient>
<linearGradient id="cb" x1="0" x2="1" y1="0" y2="0"><stop offset="0.0000" stop-color="#3e26a8"/><stop offset="0.0156" stop-color="#402ab4"/><stop offset="0.0312" stop-color="#422ebf"/><stop offset="0.0469" stop-color="#4332ca"/><stop offset="0.0625" stop-color="#4536d5"/><stop offset="0.0781" stop-color="#463bdd"/><stop offset="0.0938" stop-color="#4741e5"/><stop offset="0.1094" stop-color="#4746ea"/><stop offset="0.1250" stop-color="#484cef"/><stop offset="0.1406" stop-color="#4852f4"/><stop offset="0.1562" stop-color="#4757f7"/><stop offset="0.1719" stop-color="#475dfa"/><stop offset="0.1875" stop-color="#4562fc"/><stop offset="0.2031" stop-color="#4368fe"/><stop offset="0.2188" stop-color="#3f6efe"/><stop offset="0.2344" stop-color="#3a74fe"/><stop offset="0.2500" stop-color="#347afd"/><stop offset="0.2656" stop-color="#3080fa"/><stop offset="0.2812" stop-color="#2e85f8"/><stop offset="0.2969" stop-color="#2d8bf4"/><stop offset="0.3125" stop-color="#2c90f0"/><stop offset="0.3281" stop-color="#2895ec"/><stop offset="0.3438" stop-color="#269ae9"/><stop offset="0.3594" stop-color="#249ee6"/><stop offset="0.3750" stop-color="#21a3e3"/><stop offset="0.3906" stop-color="#1ea7e1"/><stop offset="0.4062" stop-color="#1aacdd"/><stop offset="0.4219" stop-color="#14b0d8"/><stop offset="0.4375" stop-color="#0cb3d3"/><stop offset="0.4531" stop-color="#04b6cd"/><stop offset="0.4688" stop-color="#01b9c6"/><stop offset="0.4844" stop-color="#07bcc0"/><stop offset="0.5000" stop-color="#12beb9"/><stop offset="0.5156" stop-color="#1ec0b2"/><stop offset="0.5312" stop-color="#28c2ab"/><stop offset="0.5469" stop-color="#2ec5a4"/><stop offset="0.5625" stop-color="#34c79c"/><stop offset="0.5781" stop-color="#3ac993"/><stop offset="0.5938" stop-color="#44ca8a"/><stop offset="0.6094" stop-color="#4fcc80"/><stop offset="0.6250" stop-color="#5ccc76"/><stop offset="0.6406" stop-color="#69cd6b"/><stop offset="0.6562" stop-color="#77cc60"/><stop offset="0.6719" stop-color="#85cb55"/><stop offset="0.6875" stop-color="#94ca4a"/><stop offset="0.7031" stop-color="#a2c840"/><stop offset="0.7188" stop-color="#afc637"/><stop offset="0.7344" stop-color="#bcc42f"/><stop offset="0.7500" stop-color="#c8c129"/><stop offset="0.7656" stop-color="#d4bf28"/><stop offset="0.7812" stop-color="#debc2a"/><stop offset="0.7969" stop-color="#e8bb2f"/><stop offset="0.8125" stop-color="#f1ba37"/><stop offset="0.8281" stop-color="#f9bb3d"/><stop offset="0.8438" stop-color="#febe3c"/><stop offset="0.8594" stop-color="#fec437"/><stop offset="0.8750" stop-color="#feca33"/><stop offset="0.8906" stop-color="#fcd030"/><stop offset="0.9062" stop-color="#f9d62d"/><stop offset="0.9219" stop-color="#f7dd2a"/><stop offset="0.9375" stop-color="#f5e327"/><stop offset="0.9531" stop-color="#f5e924"/><stop offset="0.9688" stop-color="#f6ef20"/><stop offset="0.9844" stop-color="#f7f51b"/><stop offset="1.0000" stop-color="#f9fb15"/></linearGradient>
<clipPath id="pclip"><rect x="1331.0" y="119.5" width="764.0" height="793.5"/></clipPath>
<filter id="b18" x="-50%" y="-50%" width="200%" height="200%"><feGaussianBlur stdDeviation="18"/></filter>
<filter id="b14" x="-50%" y="-50%" width="200%" height="200%"><feGaussianBlur stdDeviation="14"/></filter>
<filter id="b16" x="-50%" y="-50%" width="200%" height="200%"><feGaussianBlur stdDeviation="16"/></filter>
<filter id="b10" x="-50%" y="-50%" width="200%" height="200%"><feGaussianBlur stdDeviation="10"/></filter>
<filter id="b30" x="-50%" y="-50%" width="200%" height="200%"><feGaussianBlur stdDeviation="30"/></filter>
<filter id="b1" x="-5%" y="-5%" width="110%" height="110%"><feGaussianBlur stdDeviation="1.2"/></filter>
<linearGradient id="mlg" x1="0" x2="0" y1="0" y2="1"><stop offset="0" stop-color="#466798"/><stop offset="0.55" stop-color="#44679a"/><stop offset="0.8" stop-color="#3a68a2"/><stop offset="1" stop-color="#2f66a6"/></linearGradient>
<clipPath id="ccl"><rect x="216.5" y="1075.0" width="440.3" height="623.5"/></clipPath>
<clipPath id="ccr"><rect x="668.3" y="1075.0" width="439.7" height="623.5"/></clipPath>
<clipPath id="dcl"><rect x="1318.7" y="1074.0" width="770.8" height="621.5"/></clipPath>
</defs>
<g id="heat" shape-rendering="crispEdges">
<rect x="210.0" y="118.40" width="442.0" height="57.31" fill="url(#gl1)"/>
<rect x="665.5" y="118.40" width="441.8" height="57.31" fill="url(#gr1)"/>
<rect x="210.0" y="175.11" width="442.0" height="57.31" fill="url(#gl2)"/>
<rect x="665.5" y="175.11" width="441.8" height="57.31" fill="url(#gr2)"/>
<rect x="210.0" y="231.83" width="442.0" height="57.31" fill="url(#gl3)"/>
<rect x="665.5" y="231.83" width="441.8" height="57.31" fill="url(#gr3)"/>
<rect x="210.0" y="288.54" width="442.0" height="57.31" fill="url(#gl4)"/>
<rect x="665.5" y="288.54" width="441.8" height="57.31" fill="url(#gr4)"/>
<rect x="210.0" y="345.26" width="442.0" height="57.31" fill="url(#gl5)"/>
<rect x="665.5" y="345.26" width="441.8" height="57.31" fill="url(#gr5)"/>
<rect x="210.0" y="401.97" width="442.0" height="57.31" fill="url(#gl6)"/>
<rect x="665.5" y="401.97" width="441.8" height="57.31" fill="url(#gr6)"/>
<rect x="210.0" y="458.69" width="442.0" height="57.31" fill="url(#gl7)"/>
<rect x="665.5" y="458.69" width="441.8" height="57.31" fill="url(#gr7)"/>
<rect x="210.0" y="515.40" width="442.0" height="57.31" fill="url(#gl8)"/>
<rect x="665.5" y="515.40" width="441.8" height="57.31" fill="url(#gr8)"/>
<rect x="210.0" y="572.11" width="442.0" height="57.31" fill="url(#gl9)"/>
<rect x="665.5" y="572.11" width="441.8" height="57.31" fill="url(#gr9)"/>
<rect x="210.0" y="628.83" width="442.0" height="57.31" fill="url(#gl10)"/>
<rect x="665.5" y="628.83" width="441.8" height="57.31" fill="url(#gr10)"/>
<rect x="210.0" y="685.54" width="442.0" height="57.31" fill="url(#gl11)"/>
<rect x="665.5" y="685.54" width="441.8" height="57.31" fill="url(#gr11)"/>
<rect x="210.0" y="742.26" width="442.0" height="57.31" fill="url(#gl12)"/>
<rect x="665.5" y="742.26" width="441.8" height="57.31" fill="url(#gr12)"/>
<rect x="210.0" y="798.97" width="442.0" height="57.31" fill="url(#gl13)"/>
<rect x="665.5" y="798.97" width="441.8" height="57.31" fill="url(#gr13)"/>
<rect x="210.0" y="855.69" width="442.0" height="57.31" fill="url(#gl14)"/>
<rect x="665.5" y="855.69" width="441.8" height="57.31" fill="url(#gr14)"/>
</g>
<rect x="210.0" y="118.4" width="442.0" height="794.0" fill="none" stroke="#1a1a3a" stroke-width="1.6" stroke-opacity="0.75"/>
<path d="M283.0 118.4 v5 M283.0 912.4 v-5" stroke="#222" stroke-width="1.5" fill="none"/>
<path d="M467.7 118.4 v5 M467.7 912.4 v-5" stroke="#222" stroke-width="1.5" fill="none"/>
<path d="M210.0 146.8 h4 M652.0 146.8 h-4" stroke="#222" stroke-width="1.3" stroke-opacity="0.6" fill="none"/>
<path d="M210.0 316.9 h4 M652.0 316.9 h-4" stroke="#222" stroke-width="1.3" stroke-opacity="0.6" fill="none"/>
<path d="M210.0 487.0 h4 M652.0 487.0 h-4" stroke="#222" stroke-width="1.3" stroke-opacity="0.6" fill="none"/>
<path d="M210.0 657.2 h4 M652.0 657.2 h-4" stroke="#222" stroke-width="1.3" stroke-opacity="0.6" fill="none"/>
<path d="M210.0 827.3 h4 M652.0 827.3 h-4" stroke="#222" stroke-width="1.3" stroke-opacity="0.6" fill="none"/>
<rect x="665.5" y="118.4" width="441.8" height="794.0" fill="none" stroke="#1a1a3a" stroke-width="1.6" stroke-opacity="0.75"/>
<path d="M849.8 118.4 v5 M849.8 912.4 v-5" stroke="#222" stroke-width="1.5" fill="none"/>
<path d="M1034.0 118.4 v5 M1034.0 912.4 v-5" stroke="#222" stroke-width="1.5" fill="none"/>
<path d="M665.5 146.8 h4 M1107.3 146.8 h-4" stroke="#222" stroke-width="1.3" stroke-opacity="0.6" fill="none"/>
<path d="M665.5 316.9 h4 M1107.3 316.9 h-4" stroke="#222" stroke-width="1.3" stroke-opacity="0.6" fill="none"/>
<path d="M665.5 487.0 h4 M1107.3 487.0 h-4" stroke="#222" stroke-width="1.3" stroke-opacity="0.6" fill="none"/>
<path d="M665.5 657.2 h4 M1107.3 657.2 h-4" stroke="#222" stroke-width="1.3" stroke-opacity="0.6" fill="none"/>
<path d="M665.5 827.3 h4 M1107.3 827.3 h-4" stroke="#222" stroke-width="1.3" stroke-opacity="0.6" fill="none"/>
<path d="M214.6 311.9 H649" stroke="#ff0000" stroke-width="4.8" stroke-dasharray="20.2 15.4" fill="none"/>
<path d="M683.1 311.9 H1117" stroke="#ff0000" stroke-width="4.8" stroke-dasharray="20.6 15" fill="none"/>
<path d="M214.6 650.7 H649" stroke="#0a78c8" stroke-width="4.6" stroke-dasharray="20.2 15.4" fill="none"/>
<path d="M674.8 648.6 L1107 650.6" stroke="#0a78c8" stroke-width="4.6" stroke-dasharray="20.2 15.4" fill="none"/>
<rect x="300.0" y="75.0" width="717.0" height="30.0" fill="url(#cb)" stroke="#222" stroke-width="1.6"/>
<path d="M378.0 75.0 v5" stroke="#222" stroke-width="1.5"/>
<path d="M538.5 75.0 v5" stroke="#222" stroke-width="1.5"/>
<path d="M698.0 75.0 v5" stroke="#222" stroke-width="1.5"/>
<path d="M857.0 75.0 v5" stroke="#222" stroke-width="1.5"/>
<text x="378.0" y="52.5" font-size="41.0" text-anchor="middle" fill="#222">0.5</text>
<text x="538.5" y="52.5" font-size="41.0" text-anchor="middle" fill="#222">0.6</text>
<text x="698.0" y="52.5" font-size="41.0" text-anchor="middle" fill="#222">0.7</text>
<text x="857.0" y="52.5" font-size="41.0" text-anchor="middle" fill="#222">0.8</text>
<text x="1016.0" y="52.5" font-size="41.0" text-anchor="middle" fill="#222">0.9</text>
<text x="11.0" y="91.0" font-size="96.0" text-anchor="start" fill="#000">(a)</text>
<text x="193.6" y="163.5" font-size="44.0" text-anchor="end" fill="#222">1</text>
<text x="193.6" y="333.6" font-size="44.0" text-anchor="end" fill="#222">4</text>
<text x="193.6" y="503.7" font-size="44.0" text-anchor="end" fill="#222">7</text>
<text x="193.6" y="673.9" font-size="44.0" text-anchor="end" fill="#222">10</text>
<text x="193.6" y="844.0" font-size="44.0" text-anchor="end" fill="#222">13</text>
<text x="271.3" y="966.2" font-size="43.0" text-anchor="middle" fill="#222">−100</text>
<text x="461.0" y="966.2" font-size="43.0" text-anchor="middle" fill="#222">−50</text>
<text x="661.5" y="966.2" font-size="43.0" text-anchor="middle" fill="#222">0</text>
<text x="851.0" y="966.2" font-size="43.0" text-anchor="middle" fill="#222">50</text>
<text x="1041.0" y="966.2" font-size="43.0" text-anchor="middle" fill="#222">100</text>
<text transform="translate(129.0,515.0) rotate(-90) scale(1.0200,1)" font-size="50.0" text-anchor="middle" fill="#222">Position (μm)</text>
<text transform="translate(585.0,1018.0)" font-size="50.0" text-anchor="start" fill="#222" font-style="italic">I</text>
<text transform="translate(604.5,1041.0)" font-size="40.0" text-anchor="start" fill="#222">ds</text>
<text transform="translate(654.5,1018.0)" font-size="49.0" text-anchor="start" fill="#222">(μA)</text>
<text x="1057" y="76.3" font-size="44" fill="#222" font-style="italic">I</text>
<text x="1074" y="96.5" font-size="36" fill="#222">ph</text>
<text x="1123" y="76.3" font-size="44" fill="#222">/</text>
<text x="1145.5" y="76.3" font-size="44" fill="#222" font-style="italic">I</text>
<text x="1165.5" y="56" font-size="36" fill="#222">peak</text>
<text x="1165.5" y="96.5" font-size="36" fill="#222">ph</text>
<text x="1125.0" y="138.0" font-size="44.5" text-anchor="start" fill="#222">(a.u.)</text>
<g clip-path="url(#pclip)">
<rect x="1331.0" y="119.5" width="764.0" height="793.5" fill="#6d7c6e"/>
<path d="M1270 240 L1334 268 L1356 310 L1384 400 L1396 487 L1406 564 L1417 657 L1427 753 L1445 940 L1270 940 Z" fill="#2679ac" filter="url(#b16)"/>
<ellipse cx="1350" cy="274" rx="15" ry="13" fill="#5a6b7a" filter="url(#b10)" opacity="0.7"/>
<path d="M2028 60 L2160 60 L2160 940 L2098 940 L2086 765 L2078 705 L2056 661 L2038 520 L2028 350 Z" fill="#217aab" filter="url(#b14)"/>
<path d="M1290 860 L2140 840 L2140 960 L1290 960 Z" fill="#2a66a8" filter="url(#b30)"/>
<ellipse cx="2084" cy="122" rx="62" ry="50" fill="#1d4a7c" filter="url(#b18)"/>
<ellipse cx="1899" cy="343" rx="19" ry="24" fill="#46525a" filter="url(#b10)"/>
<path d="M1456 511 L1992.5 364.5 L2017 480 L2045 661 L2071 705 L2079 765 L2089 829 L2100 900 L2110 930 L1405 930 Z" fill="url(#mlg)" filter="url(#b1)"/>
<ellipse cx="1652" cy="532" rx="34" ry="30" fill="#38589a" filter="url(#b18)" opacity="0.9"/>
<ellipse cx="2010" cy="905" rx="120" ry="40" fill="#28509a" filter="url(#b30)" opacity="0.9"/>
</g>
<path d="M1739.5 119.5 V913" stroke="#fff" stroke-width="7" stroke-dasharray="23.6 19.4" fill="none"/>
<circle cx="1739.3" cy="606" r="23.4" fill="none" stroke="#ff0000" stroke-width="12"/>
<path d="M1518.4 292.7 L1608.7 358.6 L1602.3 367.3 L1636.0 372.0 L1621.2 341.4 L1614.9 350.1 L1524.6 284.3 Z" fill="#ffd966"/>
<path d="M1947.3 700.4 L1910.1 615.6 L1920.8 610.9 L1892.0 587.5 L1889.7 624.6 L1900.5 619.8 L1937.7 704.6 Z" fill="#00b0f0"/>
<text transform="translate(1372.5,249.5) scale(1.0100,1)" font-size="95.0" text-anchor="start" fill="#ffd966">NbSe<tspan font-size="60" dy="19">2</tspan></text>
<text transform="translate(1846.5,823.5) scale(1.0160,1)" font-size="93.0" text-anchor="start" fill="#00b0f0">MLG</text>
<rect x="1325.3" y="115" width="6.6" height="807.5" fill="#000"/>
<rect x="1328" y="142.4" width="33.3" height="6.8" fill="#000"/>
<rect x="1328" y="312.8" width="33.3" height="6.8" fill="#000"/>
<rect x="1328" y="483.9" width="33.3" height="6.8" fill="#000"/>
<rect x="1328" y="654.8" width="33.3" height="6.8" fill="#000"/>
<rect x="1328" y="825.3" width="33.3" height="6.8" fill="#000"/>
<rect x="1328" y="227.6" width="17" height="6.0" fill="#000"/>
<rect x="1328" y="398.3" width="17" height="6.0" fill="#000"/>
<rect x="1328" y="569.2" width="17" height="6.0" fill="#000"/>
<rect x="1328" y="740.5" width="17" height="6.0" fill="#000"/>
<text x="1291.5" y="167.1" font-size="69.0" text-anchor="end" fill="#000">1</text>
<text x="1291.5" y="337.1" font-size="69.0" text-anchor="end" fill="#000">4</text>
<text x="1291.5" y="510.0" font-size="69.0" text-anchor="end" fill="#000">7</text>
<text x="1291.5" y="679.1" font-size="69.0" text-anchor="end" fill="#000">10</text>
<text x="1291.5" y="850.6" font-size="69.0" text-anchor="end" fill="#000">13</text>
<text transform="translate(1206.5,962.6) scale(1.0900,1)" font-size="70.0" text-anchor="start" fill="#333">μm</text>
<text x="1253.0" y="91.0" font-size="96.0" text-anchor="start" fill="#000">(b)</text>
<path d="M215.9 1593.5C217.1 1591.5 220.9 1587.2 223.2 1582.0C225.5 1576.8 228.1 1567.2 229.7 1562.3C231.4 1557.4 232.2 1557.9 233.0 1552.4C233.8 1547.0 233.6 1538.8 234.7 1529.5C235.7 1520.2 237.4 1507.0 239.6 1496.6C241.8 1486.2 245.3 1474.8 247.8 1467.1C250.2 1459.4 252.2 1456.2 254.3 1450.7C256.5 1445.2 257.4 1444.8 260.9 1434.3C264.5 1423.8 271.0 1401.1 275.7 1387.9C280.3 1374.7 285.5 1365.5 288.8 1355.1C292.1 1344.7 292.9 1336.5 295.4 1325.5C297.8 1314.6 300.8 1302.0 303.6 1289.4C306.3 1276.8 309.3 1259.9 311.8 1250.0C314.2 1240.2 315.6 1237.5 318.3 1230.3C321.1 1223.2 324.4 1216.1 328.2 1207.4C332.0 1198.6 337.5 1186.0 341.3 1177.8C345.1 1169.6 347.9 1163.7 351.2 1158.1C354.4 1152.6 357.7 1147.6 361.0 1144.4C364.3 1141.1 367.3 1140.4 370.8 1138.5C374.4 1136.5 378.2 1132.7 382.3 1132.5C386.4 1132.4 390.8 1138.5 395.5 1137.5C400.1 1136.4 406.7 1127.8 410.2 1126.3C413.8 1124.8 414.1 1124.9 416.8 1128.6C419.5 1132.3 422.8 1139.5 426.6 1148.3C430.5 1157.1 435.4 1174.0 439.8 1181.1C444.1 1188.2 449.6 1185.5 452.9 1191.0C456.2 1196.4 457.3 1207.4 459.5 1213.9C461.6 1220.5 463.3 1225.4 466.0 1230.3C468.8 1235.3 472.6 1239.9 475.9 1243.5C479.2 1247.0 481.9 1249.5 485.7 1251.7C489.5 1253.9 494.5 1253.9 498.8 1256.6C503.2 1259.3 507.6 1264.8 512.0 1268.1C516.3 1271.4 521.3 1272.2 525.1 1276.3C528.9 1280.4 531.7 1286.1 534.9 1292.7C538.2 1299.3 541.0 1308.3 544.8 1315.7C548.6 1323.1 553.5 1331.0 557.9 1337.0C562.3 1343.0 567.2 1347.4 571.0 1351.8C574.9 1356.2 577.6 1357.8 580.9 1363.3C584.2 1368.7 588.0 1377.8 590.7 1384.6C593.5 1391.4 594.6 1394.9 597.3 1404.3C600.0 1413.7 604.1 1429.8 607.1 1440.8C610.2 1451.9 612.6 1461.6 615.3 1470.4C618.1 1479.1 620.8 1485.2 623.6 1493.4C626.3 1501.6 629.0 1509.8 631.8 1519.6C634.5 1529.5 637.2 1539.8 640.0 1552.4C642.7 1565.0 646.0 1582.5 648.2 1595.1C650.4 1607.7 651.7 1619.2 653.1 1627.9C654.5 1636.7 655.8 1644.3 656.4 1647.6" stroke="#fa1414" stroke-width="2.9" fill="none" stroke-linejoin="round" stroke-linecap="round" clip-path="url(#ccl)"/>
<path d="M215.9 1572.1C216.6 1567.2 218.4 1553.5 219.9 1542.6C221.4 1531.6 223.2 1516.9 224.8 1506.5C226.4 1496.1 228.4 1486.2 229.7 1480.2C231.1 1474.2 231.6 1475.3 233.0 1470.4C234.4 1465.5 236.0 1459.0 237.9 1450.7C239.8 1442.4 242.0 1427.2 244.5 1420.7C247.0 1414.2 250.5 1413.5 252.7 1411.8C254.9 1410.2 256.0 1412.7 257.6 1410.8C259.3 1409.0 260.9 1408.1 262.5 1401.0C264.2 1393.9 265.8 1381.9 267.5 1368.2C269.1 1354.5 271.0 1332.6 272.4 1319.0C273.8 1305.3 274.3 1298.7 275.7 1286.1C277.0 1273.6 279.0 1255.5 280.6 1243.5C282.2 1231.4 283.7 1220.5 285.5 1213.9C287.3 1207.4 289.5 1204.6 291.4 1204.1C293.3 1203.5 295.3 1207.9 297.0 1210.7C298.8 1213.4 300.3 1219.4 301.9 1220.5C303.6 1221.6 305.2 1221.0 306.9 1217.2C308.5 1213.4 310.1 1204.1 311.8 1197.5C313.4 1191.0 315.1 1186.0 316.7 1177.8C318.3 1169.6 320.0 1155.7 321.6 1148.3C323.3 1140.9 324.6 1137.1 326.5 1133.5C328.5 1130.0 330.9 1127.0 333.1 1127.0C335.3 1127.0 337.8 1130.0 339.7 1133.5C341.6 1137.1 342.7 1142.6 344.6 1148.3C346.5 1154.0 349.0 1162.0 351.2 1168.0C353.3 1174.0 355.5 1180.1 357.7 1184.4C359.9 1188.7 362.4 1191.9 364.3 1193.6C366.2 1195.2 367.6 1195.2 369.2 1194.2C370.8 1193.3 372.7 1189.4 374.1 1187.7C375.6 1185.9 376.7 1183.7 378.1 1183.7C379.4 1183.7 380.8 1184.3 382.3 1187.7C383.9 1191.1 385.3 1195.9 387.3 1204.1C389.2 1212.3 391.6 1227.1 393.8 1236.9C396.0 1246.8 398.2 1255.0 400.4 1263.2C402.6 1271.4 404.8 1278.5 406.9 1286.1C409.1 1293.8 411.3 1302.5 413.5 1309.1C415.7 1315.7 417.9 1318.4 420.1 1325.5C422.3 1332.6 424.5 1342.5 426.6 1351.8C428.8 1361.1 431.0 1372.6 433.2 1381.3C435.4 1390.1 437.9 1398.8 439.8 1404.3C441.7 1409.8 442.5 1411.9 444.7 1414.1C446.9 1416.3 450.2 1415.9 452.9 1417.4C455.6 1418.9 458.4 1423.3 461.1 1423.3C463.8 1423.3 466.3 1421.1 469.3 1417.4C472.3 1413.7 476.1 1405.7 479.2 1401.0C482.2 1396.4 484.9 1391.9 487.4 1389.5C489.8 1387.2 491.7 1386.6 493.9 1386.9C496.1 1387.2 498.3 1389.4 500.5 1391.2C502.7 1393.0 505.1 1397.2 507.0 1397.7C509.0 1398.3 510.1 1397.2 512.0 1394.4C513.9 1391.7 515.8 1387.3 518.5 1381.3C521.3 1375.3 525.1 1364.2 528.4 1358.3C531.7 1352.5 535.2 1347.0 538.2 1346.2C541.2 1345.4 543.4 1350.8 546.4 1353.4C549.4 1356.0 553.3 1361.3 556.3 1361.6C559.3 1361.9 561.7 1357.4 564.5 1355.1C567.2 1352.8 570.2 1348.9 572.7 1347.8C575.1 1346.7 577.3 1346.2 579.2 1348.5C581.2 1350.8 582.5 1355.6 584.2 1361.6C585.8 1367.6 587.5 1376.4 589.1 1384.6C590.7 1392.8 592.4 1401.5 594.0 1410.8C595.7 1420.2 597.0 1430.4 598.9 1440.8C600.9 1451.3 603.3 1463.3 605.5 1473.7C607.7 1484.1 609.6 1492.8 612.1 1503.2C614.5 1513.6 617.8 1525.1 620.3 1536.0C622.7 1547.0 624.6 1558.4 626.8 1568.8C629.0 1579.2 631.2 1588.0 633.4 1598.4C635.6 1608.8 637.8 1619.7 640.0 1631.2C642.1 1642.7 644.6 1657.4 646.5 1667.3C648.4 1677.1 650.1 1685.2 651.4 1690.3C652.8 1695.3 654.2 1696.3 654.7 1697.5" stroke="#1414fa" stroke-width="2.9" fill="none" stroke-linejoin="round" stroke-linecap="round" clip-path="url(#ccl)"/>
<path d="M668.1 1644.3C668.7 1642.2 670.2 1636.4 671.4 1631.8C672.5 1627.2 673.7 1623.0 675.1 1616.7C676.6 1610.4 678.5 1601.7 680.2 1594.1C681.8 1586.6 683.5 1579.1 685.2 1571.5C686.8 1564.0 688.5 1556.1 690.2 1549.0C691.9 1541.8 693.3 1536.0 695.2 1528.9C697.1 1521.8 699.4 1512.6 701.5 1506.3C703.6 1500.0 705.5 1495.8 707.8 1491.2C710.1 1486.6 713.2 1482.4 715.3 1478.7C717.4 1474.9 718.6 1472.8 720.3 1468.6C722.0 1464.5 723.7 1459.0 725.3 1453.6C727.0 1448.1 729.3 1441.0 730.3 1436.0C731.4 1431.1 730.3 1430.6 731.6 1424.0C732.9 1417.4 735.6 1405.2 737.9 1396.4C740.2 1387.6 742.9 1378.8 745.4 1371.3C747.9 1363.7 750.4 1356.0 752.9 1351.2C755.4 1346.4 757.5 1345.3 760.5 1342.4C763.4 1339.5 767.6 1337.6 770.5 1333.6C773.4 1329.7 775.5 1324.0 778.0 1318.6C780.5 1313.1 783.1 1306.9 785.6 1301.0C788.1 1295.1 790.6 1288.0 793.1 1283.4C795.6 1278.8 798.1 1276.3 800.6 1273.4C803.1 1270.5 805.6 1267.5 808.1 1265.9C810.7 1264.2 812.7 1264.8 815.7 1263.4C818.6 1261.9 822.8 1259.8 825.7 1257.1C828.6 1254.4 831.2 1250.2 833.2 1247.0C835.3 1243.9 836.2 1241.0 838.3 1238.3C840.4 1235.5 843.3 1232.6 845.8 1230.7C848.3 1228.9 850.8 1228.0 853.3 1227.0C855.8 1225.9 858.3 1225.9 860.8 1224.5C863.4 1223.0 865.9 1221.7 868.4 1218.2C870.9 1214.6 873.6 1208.1 875.9 1203.1C878.2 1198.1 880.3 1193.1 882.2 1188.1C884.1 1183.1 885.3 1177.4 887.2 1173.0C889.1 1168.6 891.2 1164.6 893.5 1161.7C895.8 1158.8 898.5 1156.8 901.0 1155.4C903.5 1154.1 906.0 1153.4 908.5 1153.4C911.0 1153.4 913.8 1154.8 916.1 1155.4C918.4 1156.1 920.2 1158.3 922.3 1157.5C924.4 1156.6 926.5 1153.5 928.6 1150.4C930.7 1147.4 932.8 1142.6 934.9 1139.1C937.0 1135.7 938.9 1131.6 941.2 1129.6C943.4 1127.6 945.9 1127.1 948.2 1127.1C950.5 1127.1 952.8 1127.8 955.0 1129.6C957.1 1131.4 958.9 1134.4 961.2 1137.9C963.5 1141.3 966.7 1147.8 968.8 1150.4C970.9 1153.0 971.9 1153.6 973.8 1153.4C975.7 1153.2 978.0 1150.3 980.1 1149.2C982.1 1148.0 984.0 1146.7 986.3 1146.7C988.6 1146.7 991.4 1148.3 993.9 1149.2C996.4 1150.0 999.1 1150.6 1001.4 1151.7C1003.7 1152.7 1005.6 1153.1 1007.7 1155.4C1009.8 1157.7 1011.6 1160.9 1013.9 1165.5C1016.2 1170.1 1019.0 1176.8 1021.5 1183.1C1024.0 1189.3 1026.5 1195.2 1029.0 1203.1C1031.5 1211.1 1034.0 1221.1 1036.5 1230.7C1039.0 1240.4 1041.5 1252.1 1044.1 1260.8C1046.6 1269.6 1049.1 1275.9 1051.6 1283.4C1054.1 1291.0 1056.6 1298.9 1059.1 1306.0C1061.6 1313.1 1064.1 1319.0 1066.6 1326.1C1069.2 1333.2 1071.7 1341.2 1074.2 1348.7C1076.7 1356.2 1079.2 1363.7 1081.7 1371.3C1084.2 1378.8 1086.7 1386.3 1089.2 1393.9C1091.7 1401.4 1095.1 1409.8 1096.8 1416.4C1098.4 1423.1 1098.0 1428.2 1099.3 1433.5C1100.5 1438.9 1102.8 1444.4 1104.3 1448.6C1105.7 1452.8 1107.4 1456.9 1108.1 1458.6" stroke="#fa1414" stroke-width="2.9" fill="none" stroke-linejoin="round" stroke-linecap="round" clip-path="url(#ccr)"/>
<path d="M668.1 1601.7C668.9 1601.9 671.0 1601.9 672.6 1602.9C674.2 1604.0 675.8 1606.3 677.6 1607.9C679.5 1609.6 682.0 1612.0 683.9 1612.9C685.8 1613.9 687.3 1614.1 688.9 1613.7C690.6 1613.3 692.3 1612.9 694.0 1610.4C695.6 1608.0 697.3 1604.4 699.0 1599.1C700.6 1593.9 702.3 1586.2 704.0 1579.1C705.7 1572.0 707.3 1564.0 709.0 1556.5C710.7 1549.0 712.4 1542.3 714.0 1533.9C715.7 1525.5 717.4 1515.1 719.1 1506.3C720.7 1497.5 722.4 1489.6 724.1 1481.2C725.7 1472.8 727.4 1464.0 729.1 1456.1C730.8 1448.1 732.6 1440.1 734.1 1433.5C735.6 1426.9 736.0 1424.7 737.9 1416.4C739.8 1408.2 742.9 1393.9 745.4 1383.8C747.9 1373.8 750.6 1363.7 752.9 1356.2C755.2 1348.7 757.3 1343.2 759.2 1338.6C761.1 1334.0 762.8 1330.7 764.2 1328.6C765.7 1326.5 766.7 1325.9 768.0 1326.1C769.2 1326.3 770.3 1327.4 771.8 1329.9C773.2 1332.4 774.9 1336.8 776.8 1341.2C778.7 1345.6 781.0 1351.2 783.1 1356.2C785.1 1361.2 787.2 1366.5 789.3 1371.3C791.4 1376.1 793.5 1382.1 795.6 1385.1C797.7 1388.1 799.8 1388.6 801.9 1389.3C804.0 1390.1 806.1 1388.2 808.1 1389.3C810.2 1390.5 812.3 1392.7 814.4 1396.4C816.5 1400.1 818.6 1406.0 820.7 1411.4C822.8 1416.9 824.9 1422.8 827.0 1429.0C829.1 1435.2 831.2 1442.8 833.2 1448.6C835.3 1454.3 837.6 1458.8 839.5 1463.6C841.4 1468.4 843.1 1474.4 844.5 1477.4C846.0 1480.5 847.0 1481.9 848.3 1481.9C849.6 1481.9 850.6 1480.1 852.1 1477.4C853.5 1474.8 855.2 1470.5 857.1 1466.1C859.0 1461.7 861.3 1456.1 863.4 1451.1C865.5 1446.1 868.0 1440.1 869.6 1436.0C871.3 1431.9 871.7 1430.0 873.4 1426.5C875.1 1423.0 877.2 1417.6 879.7 1415.2C882.2 1412.8 885.9 1413.6 888.5 1411.9C891.0 1410.3 892.6 1408.6 894.7 1405.2C896.8 1401.7 898.7 1397.4 901.0 1391.4C903.3 1385.3 906.0 1376.3 908.5 1368.8C911.0 1361.2 913.6 1353.7 916.1 1346.2C918.6 1338.6 921.3 1330.3 923.6 1323.6C925.9 1316.9 927.8 1310.0 929.9 1306.0C932.0 1302.0 933.8 1301.2 936.1 1299.7C938.4 1298.3 941.4 1298.7 943.7 1297.2C946.0 1295.8 948.3 1292.8 949.9 1291.0C951.6 1289.1 952.2 1290.1 953.7 1285.9C955.2 1281.8 956.8 1272.6 958.7 1265.9C960.6 1259.2 963.1 1253.3 965.0 1245.8C966.9 1238.3 968.3 1229.1 970.0 1220.7C971.7 1212.3 973.4 1203.5 975.0 1195.6C976.7 1187.7 978.4 1179.7 980.1 1173.0C981.7 1166.3 983.2 1160.5 985.1 1155.4C987.0 1150.4 989.1 1146.9 991.4 1142.9C993.7 1138.9 996.4 1134.2 998.9 1131.6C1001.4 1129.0 1004.1 1127.4 1006.4 1127.1C1008.7 1126.8 1010.6 1127.8 1012.7 1129.6C1014.8 1131.4 1016.7 1135.0 1019.0 1137.9C1021.3 1140.7 1024.0 1143.9 1026.5 1146.7C1029.0 1149.4 1031.9 1151.5 1034.0 1154.2C1036.1 1156.9 1037.4 1159.0 1039.0 1163.0C1040.7 1166.9 1042.2 1173.0 1044.1 1178.0C1045.9 1183.1 1048.4 1187.7 1050.3 1193.1C1052.2 1198.5 1053.5 1205.8 1055.3 1210.7C1057.2 1215.5 1059.3 1219.0 1061.6 1221.9C1063.9 1224.9 1066.6 1226.1 1069.2 1228.2C1071.7 1230.3 1074.4 1232.0 1076.7 1234.5C1079.0 1237.0 1081.1 1239.7 1083.0 1243.3C1084.8 1246.8 1086.5 1251.6 1088.0 1255.8C1089.4 1260.0 1090.5 1262.5 1091.7 1268.4C1093.0 1274.2 1094.2 1283.0 1095.5 1291.0C1096.8 1298.9 1098.0 1307.7 1099.3 1316.1C1100.5 1324.4 1102.0 1332.8 1103.0 1341.2C1104.1 1349.5 1104.7 1358.3 1105.5 1366.3C1106.4 1374.2 1107.6 1385.1 1108.1 1388.8" stroke="#1414fa" stroke-width="2.9" fill="none" stroke-linejoin="round" stroke-linecap="round" clip-path="url(#ccr)"/>
<rect x="216.5" y="1075.0" width="440.3" height="622.5" fill="none" stroke="#1c1c1c" stroke-width="2.6"/>
<rect x="668.3" y="1075.0" width="439.7" height="622.5" fill="none" stroke="#1c1c1c" stroke-width="2.6"/>
<path d="M289.8 1697.5 v-11.5 M289.8 1075.0 v11.5 M473.3 1697.5 v-11.5 M473.3 1075.0 v11.5 M381.5 1697.5 v-6 M381.5 1075.0 v6 M565.0 1697.5 v-6 M565.0 1075.0 v6 M216.5 1646.0 h11.5 M656.8 1646.0 h-11.5 M216.5 1594.2 h6.0 M656.8 1594.2 h-6.0 M216.5 1542.3 h11.5 M656.8 1542.3 h-11.5 M216.5 1490.5 h6.0 M656.8 1490.5 h-6.0 M216.5 1438.6 h11.5 M656.8 1438.6 h-11.5 M216.5 1386.8 h6.0 M656.8 1386.8 h-6.0 M216.5 1334.9 h11.5 M656.8 1334.9 h-11.5 M216.5 1283.0 h6.0 M656.8 1283.0 h-6.0 M216.5 1231.2 h11.5 M656.8 1231.2 h-11.5 M216.5 1179.3 h6.0 M656.8 1179.3 h-6.0 M216.5 1127.5 h11.5 M656.8 1127.5 h-11.5 " stroke="#1c1c1c" stroke-width="2.5" fill="none"/>
<path d="M851.5 1697.5 v-11.5 M851.5 1075.0 v11.5 M1034.7 1697.5 v-11.5 M1034.7 1075.0 v11.5 M760.0 1697.5 v-6 M760.0 1075.0 v6 M943.1 1697.5 v-6 M943.1 1075.0 v6 M668.3 1646.0 h11.5 M1108.0 1646.0 h-11.5 M668.3 1594.2 h6.0 M1108.0 1594.2 h-6.0 M668.3 1542.3 h11.5 M1108.0 1542.3 h-11.5 M668.3 1490.5 h6.0 M1108.0 1490.5 h-6.0 M668.3 1438.6 h11.5 M1108.0 1438.6 h-11.5 M668.3 1386.8 h6.0 M1108.0 1386.8 h-6.0 M668.3 1334.9 h11.5 M1108.0 1334.9 h-11.5 M668.3 1283.0 h6.0 M1108.0 1283.0 h-6.0 M668.3 1231.2 h11.5 M1108.0 1231.2 h-11.5 M668.3 1179.3 h6.0 M1108.0 1179.3 h-6.0 M668.3 1127.5 h11.5 M1108.0 1127.5 h-11.5 " stroke="#1c1c1c" stroke-width="2.5" fill="none"/>
<text x="201.5" y="1658.0" font-size="39.5" text-anchor="end" fill="#111">0.0</text>
<text x="201.5" y="1554.3" font-size="39.5" text-anchor="end" fill="#111">0.2</text>
<text x="201.5" y="1450.6" font-size="39.5" text-anchor="end" fill="#111">0.4</text>
<text x="201.5" y="1346.9" font-size="39.5" text-anchor="end" fill="#111">0.6</text>
<text x="201.5" y="1243.2" font-size="39.5" text-anchor="end" fill="#111">0.8</text>
<text x="201.5" y="1139.5" font-size="39.5" text-anchor="end" fill="#111">1.0</text>
<text x="289.0" y="1741.3" font-size="40.5" text-anchor="middle" fill="#111">−100</text>
<text x="473.0" y="1741.3" font-size="40.5" text-anchor="middle" fill="#111">−50</text>
<text x="668.0" y="1741.3" font-size="40.5" text-anchor="middle" fill="#111">0</text>
<text x="851.0" y="1741.3" font-size="40.5" text-anchor="middle" fill="#111">50</text>
<text x="1035.0" y="1741.3" font-size="40.5" text-anchor="middle" fill="#111">100</text>
<text transform="translate(590.0,1795.5)" font-size="52.0" text-anchor="start" fill="#111"><tspan font-style="italic">I</tspan><tspan font-size="35.9" dy="14.0" dx="1">ds</tspan><tspan dy="-14.0"> (μA)</tspan></text>
<text x="17.5" y="1115.5" font-size="96.0" text-anchor="start" fill="#000">(c)</text>
<text transform="translate(120.5,1524.0) rotate(-90)" font-size="52.0" text-anchor="start" fill="#111" font-style="italic">I</text>
<text transform="translate(136.5,1503.0) rotate(-90) scale(0.9700,1)" font-size="36.0" text-anchor="start" fill="#111">ph</text>
<text transform="translate(120.5,1463.5) rotate(-90)" font-size="52.0" text-anchor="start" fill="#111">/</text>
<text transform="translate(120.5,1437.5) rotate(-90)" font-size="52.0" text-anchor="start" fill="#111" font-style="italic">I</text>
<text transform="translate(99.8,1422.0) rotate(-90) scale(1.0400,1)" font-size="36.0" text-anchor="start" fill="#111">peak</text>
<text transform="translate(136.5,1421.0) rotate(-90) scale(1.0400,1)" font-size="36.0" text-anchor="start" fill="#111">ph</text>
<text transform="translate(120.5,1342.0) rotate(-90) scale(1.0750,1)" font-size="52.0" text-anchor="start" fill="#111">(a.u.)</text>
<rect x="464.5" y="1079.5" width="184.5" height="121.5" fill="#fff" stroke="#8a8a8a" stroke-width="1.6"/>
<text transform="translate(469.5,1111.5) scale(1.0400,1)" font-size="30.5" text-anchor="start" fill="#111">Position (μm)</text>
<path d="M468.7 1140 H540" stroke="#ff0000" stroke-width="2.8"/>
<path d="M468.7 1180.5 H540" stroke="#0000ff" stroke-width="2.8"/>
<text x="547.0" y="1150.5" font-size="31.0" text-anchor="start" fill="#111">4</text>
<text x="549.0" y="1191.0" font-size="31.0" text-anchor="start" fill="#111">10</text>
<path d="M1318.8 1687.0C1320.4 1685.3 1325.0 1680.7 1328.3 1676.9C1331.6 1673.2 1335.0 1668.2 1338.3 1664.4C1341.7 1660.6 1345.0 1657.3 1348.4 1654.4C1351.7 1651.4 1355.1 1648.9 1358.4 1646.8C1361.8 1644.7 1364.7 1643.3 1368.5 1641.8C1372.2 1640.3 1377.2 1639.9 1381.0 1638.0C1384.8 1636.2 1387.7 1632.4 1391.0 1630.5C1394.4 1628.6 1397.7 1627.4 1401.1 1626.8C1404.4 1626.1 1408.2 1626.3 1411.1 1626.8C1414.0 1627.2 1416.1 1627.2 1418.6 1629.3C1421.2 1631.4 1423.7 1636.2 1426.2 1639.3C1428.7 1642.4 1431.2 1645.4 1433.7 1648.1C1436.2 1650.8 1438.9 1654.0 1441.2 1655.6C1443.5 1657.2 1445.0 1657.8 1447.5 1657.6C1450.0 1657.4 1453.6 1656.4 1456.3 1654.4C1459.0 1652.4 1461.5 1647.8 1463.8 1645.6C1466.1 1643.4 1468.0 1641.7 1470.1 1641.3C1472.2 1640.9 1473.7 1642.5 1476.4 1643.1C1479.1 1643.7 1483.5 1645.2 1486.4 1644.8C1489.3 1644.4 1491.4 1641.9 1493.9 1640.6C1496.4 1639.2 1499.0 1637.4 1501.5 1636.8C1504.0 1636.2 1506.5 1637.2 1509.0 1636.8C1511.5 1636.4 1513.6 1636.4 1516.5 1634.3C1519.5 1632.2 1523.2 1627.8 1526.6 1624.2C1529.9 1620.7 1533.3 1615.9 1536.6 1612.9C1539.9 1610.0 1543.3 1608.3 1546.6 1606.7C1550.0 1605.0 1553.3 1605.0 1556.7 1602.9C1560.0 1600.8 1563.8 1596.3 1566.7 1594.1C1569.6 1592.0 1572.2 1590.3 1574.2 1589.9C1576.3 1589.4 1577.6 1590.1 1579.3 1591.6C1580.9 1593.2 1582.6 1596.8 1584.3 1599.1C1586.0 1601.4 1587.2 1604.0 1589.3 1605.4C1591.4 1606.9 1594.3 1606.7 1596.8 1607.9C1599.3 1609.2 1601.4 1610.4 1604.4 1612.9C1607.3 1615.5 1611.5 1619.9 1614.4 1623.0C1617.3 1626.1 1619.1 1628.6 1621.5 1631.8C1624.0 1634.9 1626.1 1639.3 1629.1 1641.8C1632.0 1644.3 1636.2 1644.3 1639.1 1646.8C1642.0 1649.3 1644.1 1652.7 1646.6 1656.9C1649.1 1661.1 1651.6 1667.3 1654.2 1671.9C1656.7 1676.5 1659.4 1681.6 1661.7 1684.5C1664.0 1687.3 1665.9 1688.4 1668.0 1689.0C1670.0 1689.6 1671.9 1688.7 1674.2 1688.2C1676.5 1687.8 1679.3 1686.3 1681.8 1686.5C1684.3 1686.7 1686.4 1688.4 1689.3 1689.5C1692.2 1690.6 1696.4 1692.4 1699.3 1693.3C1702.3 1694.1 1704.3 1694.4 1706.9 1694.5C1709.4 1694.6 1713.1 1694.1 1714.4 1694.0" stroke="#a566e6" stroke-width="2.8" fill="none" stroke-linejoin="round" stroke-linecap="round" clip-path="url(#dcl)"/>
<path d="M1318.8 1684.5C1320.4 1681.1 1325.0 1669.4 1328.3 1664.4C1331.6 1659.4 1335.4 1659.0 1338.3 1654.4C1341.3 1649.8 1342.9 1643.1 1345.9 1636.8C1348.8 1630.5 1352.6 1623.0 1355.9 1616.7C1359.3 1610.4 1363.0 1604.2 1365.9 1599.1C1368.9 1594.1 1371.0 1589.7 1373.5 1586.6C1376.0 1583.5 1378.1 1581.7 1381.0 1580.3C1383.9 1578.9 1387.7 1578.9 1391.0 1578.3C1394.4 1577.8 1398.2 1576.7 1401.1 1577.1C1404.0 1577.4 1406.1 1578.1 1408.6 1580.3C1411.1 1582.5 1413.6 1586.8 1416.1 1590.4C1418.6 1593.9 1421.2 1598.5 1423.7 1601.7C1426.2 1604.8 1428.3 1607.3 1431.2 1609.2C1434.1 1611.1 1437.9 1612.3 1441.2 1612.9C1444.6 1613.6 1447.9 1614.0 1451.3 1612.9C1454.6 1611.9 1458.0 1608.6 1461.3 1606.7C1464.7 1604.8 1467.6 1603.3 1471.4 1601.7C1475.1 1600.0 1479.7 1598.3 1483.9 1596.6C1488.1 1595.0 1491.8 1593.3 1496.4 1591.6C1501.0 1589.9 1507.3 1588.5 1511.5 1586.6C1515.7 1584.7 1517.8 1581.9 1521.5 1580.3C1525.3 1578.7 1529.9 1577.7 1534.1 1577.1C1538.3 1576.4 1542.9 1576.6 1546.6 1576.6C1550.4 1576.6 1553.3 1577.9 1556.7 1577.1C1560.0 1576.2 1563.8 1574.6 1566.7 1571.5C1569.6 1568.5 1571.7 1563.6 1574.2 1559.0C1576.8 1554.4 1579.3 1549.0 1581.8 1543.9C1584.3 1538.9 1586.8 1534.3 1589.3 1528.9C1591.8 1523.4 1594.3 1516.3 1596.8 1511.3C1599.3 1506.3 1601.4 1501.9 1604.4 1498.8C1607.3 1495.6 1611.5 1493.8 1614.4 1492.5C1617.3 1491.1 1619.1 1491.1 1621.5 1490.7C1624.0 1490.4 1626.5 1490.0 1629.1 1490.5C1631.6 1491.0 1634.1 1491.9 1636.6 1493.7C1639.1 1495.5 1641.2 1498.6 1644.1 1501.3C1647.0 1504.0 1650.8 1507.5 1654.2 1510.1C1657.5 1512.6 1660.4 1514.4 1664.2 1516.3C1668.0 1518.2 1672.6 1519.5 1676.7 1521.3C1680.9 1523.2 1685.1 1525.5 1689.3 1527.6C1693.5 1529.7 1698.1 1531.0 1701.8 1533.9C1705.6 1536.8 1708.1 1541.4 1711.9 1545.2C1715.6 1549.0 1720.7 1553.3 1724.4 1556.5C1728.2 1559.6 1731.5 1560.2 1734.5 1564.0C1737.4 1567.8 1739.5 1573.6 1742.0 1579.1C1744.5 1584.5 1747.4 1590.4 1749.5 1596.6C1751.6 1602.9 1752.9 1610.4 1754.5 1616.7C1756.2 1623.0 1757.9 1628.8 1759.6 1634.3C1761.2 1639.7 1762.9 1644.7 1764.6 1649.3C1766.3 1653.9 1767.9 1657.7 1769.6 1661.9C1771.3 1666.1 1772.7 1670.3 1774.6 1674.4C1776.5 1678.6 1778.8 1683.7 1780.9 1687.0C1783.0 1690.2 1784.9 1692.8 1787.2 1694.0C1789.5 1695.3 1792.2 1694.8 1794.7 1694.5C1797.2 1694.2 1799.7 1693.5 1802.2 1692.0C1804.7 1690.5 1807.2 1687.6 1809.8 1685.7C1812.3 1683.8 1814.8 1681.8 1817.3 1680.7C1819.8 1679.6 1822.3 1678.7 1824.8 1679.0C1827.3 1679.2 1830.0 1680.2 1832.3 1682.0C1834.6 1683.7 1836.9 1687.4 1838.6 1689.5C1840.3 1691.6 1841.8 1693.7 1842.4 1694.5" stroke="#1fa55a" stroke-width="2.8" fill="none" stroke-linejoin="round" stroke-linecap="round" clip-path="url(#dcl)"/>
<path d="M1318.8 1694.5C1319.9 1692.0 1323.4 1684.9 1325.8 1679.5C1328.2 1674.0 1330.8 1666.5 1333.3 1661.9C1335.8 1657.3 1338.3 1657.7 1340.8 1651.8C1343.4 1646.0 1345.9 1634.7 1348.4 1626.8C1350.9 1618.8 1353.4 1611.3 1355.9 1604.2C1358.4 1597.1 1360.9 1590.8 1363.4 1584.1C1365.9 1577.4 1368.5 1569.9 1371.0 1564.0C1373.5 1558.2 1376.0 1553.1 1378.5 1549.0C1381.0 1544.8 1383.1 1541.6 1386.0 1538.9C1389.0 1536.2 1393.1 1534.0 1396.1 1532.6C1399.0 1531.3 1401.1 1530.4 1403.6 1530.6C1406.1 1530.8 1408.2 1532.3 1411.1 1533.9C1414.0 1535.5 1417.4 1538.1 1421.2 1540.2C1424.9 1542.3 1429.5 1544.1 1433.7 1546.4C1437.9 1548.7 1442.1 1551.5 1446.3 1554.0C1450.4 1556.5 1454.6 1559.2 1458.8 1561.5C1463.0 1563.8 1467.2 1566.2 1471.4 1567.8C1475.5 1569.4 1480.1 1570.7 1483.9 1571.0C1487.7 1571.3 1490.6 1570.9 1493.9 1569.5C1497.3 1568.2 1501.0 1565.4 1504.0 1562.8C1506.9 1560.2 1509.0 1557.5 1511.5 1554.0C1514.0 1550.4 1516.1 1545.6 1519.0 1541.4C1522.0 1537.2 1525.7 1532.0 1529.1 1528.9C1532.4 1525.7 1536.2 1523.8 1539.1 1522.6C1542.0 1521.4 1544.1 1521.6 1546.6 1521.8C1549.2 1522.1 1551.7 1523.2 1554.2 1523.9C1556.7 1524.5 1558.8 1526.3 1561.7 1525.9C1564.6 1525.4 1568.0 1523.4 1571.7 1521.3C1575.5 1519.3 1580.5 1516.7 1584.3 1513.8C1588.1 1510.9 1591.4 1507.5 1594.3 1503.8C1597.3 1500.0 1599.3 1495.8 1601.9 1491.2C1604.4 1486.6 1606.9 1481.6 1609.4 1476.2C1611.9 1470.7 1614.4 1463.6 1616.9 1458.6C1619.4 1453.6 1622.4 1449.4 1624.4 1446.1C1626.5 1442.7 1627.0 1443.5 1629.1 1438.5C1631.1 1433.6 1633.7 1423.5 1636.6 1416.4C1639.5 1409.4 1643.3 1402.4 1646.6 1396.4C1650.0 1390.3 1653.7 1383.9 1656.7 1380.1C1659.6 1376.2 1661.5 1374.7 1664.2 1373.3C1666.9 1371.9 1670.0 1371.7 1673.0 1371.8C1675.9 1371.9 1678.6 1372.2 1681.8 1373.8C1684.9 1375.4 1688.5 1378.8 1691.8 1381.3C1695.1 1383.8 1698.9 1385.9 1701.8 1388.8C1704.8 1391.8 1706.0 1395.1 1709.4 1398.9C1712.7 1402.6 1718.2 1407.9 1721.9 1411.4C1725.7 1415.0 1728.6 1418.2 1732.0 1420.2C1735.3 1422.2 1738.2 1422.6 1742.0 1423.2C1745.8 1423.9 1750.4 1423.2 1754.5 1424.0C1758.7 1424.7 1762.9 1426.1 1767.1 1427.7C1771.3 1429.4 1775.9 1431.8 1779.6 1434.0C1783.4 1436.2 1784.2 1438.0 1789.7 1441.0C1795.1 1444.1 1806.8 1447.7 1812.3 1452.3C1817.7 1456.9 1819.4 1463.0 1822.3 1468.6C1825.2 1474.3 1827.3 1479.1 1829.8 1486.2C1832.3 1493.3 1834.8 1503.4 1837.4 1511.3C1839.9 1519.3 1843.0 1526.8 1844.9 1533.9C1846.8 1541.0 1847.0 1546.0 1848.7 1554.0C1850.3 1561.9 1852.6 1571.5 1854.9 1581.6C1857.2 1591.6 1860.4 1605.0 1862.5 1614.2C1864.5 1623.4 1865.4 1629.7 1867.5 1636.8C1869.6 1643.9 1872.5 1650.2 1875.0 1656.9C1877.5 1663.6 1880.2 1671.5 1882.5 1676.9C1884.8 1682.4 1887.1 1686.6 1888.8 1689.5C1890.5 1692.4 1889.9 1693.7 1892.6 1694.5C1895.3 1695.4 1900.9 1694.7 1905.1 1694.5C1909.3 1694.3 1913.9 1693.3 1917.7 1693.3C1921.4 1693.3 1926.0 1694.3 1927.7 1694.5" stroke="#1464f0" stroke-width="2.8" fill="none" stroke-linejoin="round" stroke-linecap="round" clip-path="url(#dcl)"/>
<path d="M1318.8 1675.7C1319.9 1672.6 1323.4 1662.9 1325.8 1656.9C1328.2 1650.8 1330.8 1644.3 1333.3 1639.3C1335.8 1634.3 1338.3 1632.6 1340.8 1626.8C1343.4 1620.9 1345.9 1611.3 1348.4 1604.2C1350.9 1597.1 1353.4 1591.2 1355.9 1584.1C1358.4 1577.0 1360.9 1568.6 1363.4 1561.5C1365.9 1554.4 1368.5 1547.7 1371.0 1541.4C1373.5 1535.2 1376.0 1529.7 1378.5 1523.9C1381.0 1518.0 1383.5 1511.1 1386.0 1506.3C1388.5 1501.5 1391.0 1498.1 1393.6 1495.0C1396.1 1491.9 1398.2 1489.3 1401.1 1487.5C1404.0 1485.7 1408.2 1484.4 1411.1 1484.2C1414.0 1484.0 1416.1 1485.0 1418.6 1486.2C1421.2 1487.4 1423.7 1489.3 1426.2 1491.2C1428.7 1493.1 1431.2 1495.0 1433.7 1497.5C1436.2 1500.0 1438.3 1502.9 1441.2 1506.3C1444.2 1509.6 1448.3 1514.7 1451.3 1517.6C1454.2 1520.5 1455.9 1522.3 1458.8 1523.9C1461.7 1525.4 1465.9 1526.9 1468.8 1527.1C1471.8 1527.3 1473.9 1526.5 1476.4 1525.1C1478.9 1523.7 1481.4 1521.1 1483.9 1518.8C1486.4 1516.5 1488.5 1514.4 1491.4 1511.3C1494.4 1508.2 1498.1 1503.8 1501.5 1500.0C1504.8 1496.3 1508.2 1491.9 1511.5 1488.7C1514.9 1485.6 1518.2 1484.5 1521.5 1481.2C1524.9 1477.8 1527.8 1472.8 1531.6 1468.6C1535.3 1464.5 1539.9 1460.5 1544.1 1456.1C1548.3 1451.7 1552.5 1446.1 1556.7 1442.3C1560.9 1438.5 1565.0 1436.1 1569.2 1433.5C1573.4 1430.9 1576.3 1430.6 1581.8 1426.5C1587.2 1422.4 1595.2 1413.9 1601.9 1408.9C1608.5 1403.9 1617.3 1399.9 1621.9 1396.4C1626.5 1392.8 1626.6 1391.8 1629.5 1387.6C1632.3 1383.4 1636.2 1376.5 1639.1 1371.3C1642.0 1366.0 1644.1 1362.5 1646.6 1356.2C1649.1 1349.9 1651.6 1340.7 1654.2 1333.6C1656.7 1326.5 1659.2 1319.8 1661.7 1313.6C1664.2 1307.3 1666.9 1300.2 1669.2 1296.0C1671.5 1291.8 1673.4 1292.6 1675.5 1288.5C1677.6 1284.3 1679.5 1275.9 1681.8 1270.9C1684.1 1265.9 1687.2 1262.5 1689.3 1258.3C1691.4 1254.2 1692.2 1248.9 1694.3 1245.8C1696.4 1242.7 1699.5 1240.8 1701.8 1239.5C1704.1 1238.3 1706.0 1238.1 1708.1 1238.3C1710.2 1238.5 1712.1 1239.1 1714.4 1240.8C1716.7 1242.4 1719.0 1245.2 1721.9 1248.3C1724.8 1251.4 1729.0 1255.8 1732.0 1259.6C1734.9 1263.4 1737.0 1267.1 1739.5 1270.9C1742.0 1274.7 1744.9 1278.8 1747.0 1282.2C1749.1 1285.5 1749.9 1288.2 1752.0 1291.0C1754.1 1293.7 1757.1 1295.8 1759.6 1298.5C1762.1 1301.2 1764.6 1305.0 1767.1 1307.3C1769.6 1309.6 1771.7 1310.6 1774.6 1312.3C1777.5 1314.0 1780.9 1315.6 1784.7 1317.3C1788.4 1319.0 1793.0 1320.5 1797.2 1322.3C1801.4 1324.2 1805.6 1326.5 1809.8 1328.6C1813.9 1330.7 1818.5 1332.8 1822.3 1334.9C1826.1 1337.0 1829.4 1338.6 1832.3 1341.2C1835.3 1343.7 1837.4 1346.4 1839.9 1349.9C1842.4 1353.5 1844.9 1357.7 1847.4 1362.5C1849.9 1367.3 1852.4 1373.2 1854.9 1378.8C1857.4 1384.4 1860.2 1390.9 1862.5 1396.4C1864.8 1401.8 1866.6 1406.8 1868.7 1411.4C1870.8 1416.0 1873.7 1420.7 1875.0 1424.0C1876.3 1427.2 1875.4 1426.9 1876.3 1431.0C1877.1 1435.1 1878.1 1442.3 1880.0 1448.6C1881.9 1454.8 1885.5 1461.5 1887.6 1468.6C1889.6 1475.8 1890.9 1484.1 1892.6 1491.2C1894.2 1498.3 1895.5 1503.8 1897.6 1511.3C1899.7 1518.8 1902.6 1527.2 1905.1 1536.4C1907.6 1545.6 1910.6 1558.6 1912.6 1566.5C1914.7 1574.5 1916.0 1577.8 1917.7 1584.1C1919.3 1590.4 1921.0 1597.1 1922.7 1604.2C1924.4 1611.3 1925.6 1618.8 1927.7 1626.8C1929.8 1634.7 1932.7 1643.5 1935.2 1651.8C1937.7 1660.2 1940.0 1669.8 1942.8 1676.9C1945.5 1684.1 1950.1 1691.6 1951.5 1694.5" stroke="#f5333c" stroke-width="2.8" fill="none" stroke-linejoin="round" stroke-linecap="round" clip-path="url(#dcl)"/>
<path d="M2015.5 1694.5C2017.2 1692.8 2022.2 1687.2 2025.6 1684.5C2028.9 1681.8 2031.9 1679.7 2035.6 1678.2C2039.4 1676.7 2044.0 1675.6 2048.2 1675.2C2052.4 1674.8 2056.1 1675.2 2060.7 1675.7C2065.3 1676.2 2071.6 1677.4 2075.8 1678.2C2080.0 1679.0 2083.5 1679.9 2085.8 1680.7C2088.1 1681.5 2089.0 1682.8 2089.6 1683.2" stroke="#f5333c" stroke-width="2.8" fill="none" stroke-linejoin="round" stroke-linecap="round" clip-path="url(#dcl)"/>
<path d="M1318.8 1678.2C1319.5 1675.5 1321.5 1668.0 1323.3 1661.9C1325.1 1655.8 1327.5 1648.5 1329.6 1641.8C1331.6 1635.1 1333.9 1628.4 1335.8 1621.7C1337.7 1615.0 1339.4 1607.5 1340.8 1601.7C1342.3 1595.8 1342.9 1592.5 1344.6 1586.6C1346.3 1580.7 1348.8 1574.1 1350.9 1566.5C1353.0 1559.0 1354.9 1549.4 1357.2 1541.4C1359.5 1533.5 1362.2 1525.9 1364.7 1518.8C1367.2 1511.7 1369.9 1503.8 1372.2 1498.8C1374.5 1493.7 1376.6 1492.5 1378.5 1488.7C1380.4 1485.0 1381.4 1480.4 1383.5 1476.2C1385.6 1472.0 1388.5 1467.0 1391.0 1463.6C1393.6 1460.3 1396.1 1458.2 1398.6 1456.1C1401.1 1454.0 1403.4 1452.2 1406.1 1451.1C1408.8 1449.9 1411.5 1449.3 1414.9 1449.3C1418.2 1449.3 1421.8 1449.9 1426.2 1451.1C1430.6 1452.2 1436.2 1454.6 1441.2 1456.1C1446.3 1457.6 1451.3 1458.8 1456.3 1459.9C1461.3 1460.9 1466.3 1461.7 1471.4 1462.4C1476.4 1463.1 1482.2 1464.0 1486.4 1464.1C1490.6 1464.3 1493.1 1463.8 1496.4 1463.1C1499.8 1462.4 1504.0 1461.9 1506.5 1459.9C1509.0 1457.9 1509.0 1454.2 1511.5 1451.1C1514.0 1447.9 1518.2 1444.0 1521.5 1441.0C1524.9 1438.1 1527.4 1436.4 1531.6 1433.5C1535.8 1430.7 1539.9 1428.1 1546.6 1424.0C1553.3 1419.9 1563.4 1414.4 1571.7 1408.9C1580.1 1403.5 1591.4 1395.5 1596.8 1391.4C1602.3 1387.2 1601.0 1388.0 1604.4 1383.8C1607.7 1379.6 1613.1 1372.1 1616.9 1366.3C1620.7 1360.4 1624.0 1354.5 1626.9 1348.7C1629.9 1342.8 1632.0 1336.6 1634.5 1331.1C1636.9 1325.7 1639.2 1321.5 1641.6 1316.1C1644.0 1310.6 1646.8 1303.5 1649.1 1298.5C1651.4 1293.5 1653.7 1290.5 1655.4 1285.9C1657.1 1281.3 1657.1 1277.2 1659.2 1270.9C1661.3 1264.6 1665.2 1254.6 1668.0 1248.3C1670.7 1242.0 1673.2 1237.8 1675.5 1233.2C1677.8 1228.6 1679.7 1224.5 1681.8 1220.7C1683.9 1216.9 1685.9 1214.8 1688.0 1210.7C1690.1 1206.5 1692.2 1200.2 1694.3 1195.6C1696.4 1191.0 1698.3 1186.8 1700.6 1183.1C1702.9 1179.3 1706.2 1176.4 1708.1 1173.0C1710.0 1169.7 1710.0 1165.9 1711.9 1163.0C1713.8 1160.0 1716.9 1157.7 1719.4 1155.4C1721.9 1153.1 1724.5 1150.6 1726.9 1149.2C1729.4 1147.8 1731.5 1147.3 1734.0 1147.2C1736.5 1147.0 1739.4 1147.2 1742.0 1148.4C1744.6 1149.6 1746.6 1151.6 1749.5 1154.2C1752.4 1156.8 1756.2 1161.1 1759.6 1164.2C1762.9 1167.4 1766.7 1170.5 1769.6 1173.0C1772.5 1175.5 1774.2 1176.4 1777.1 1179.3C1780.1 1182.2 1783.8 1187.4 1787.2 1190.6C1790.5 1193.8 1793.9 1196.3 1797.2 1198.6C1800.6 1200.9 1803.5 1202.8 1807.2 1204.4C1811.0 1206.0 1815.6 1206.7 1819.8 1208.1C1824.0 1209.6 1828.2 1210.9 1832.3 1213.2C1836.5 1215.5 1841.1 1219.0 1844.9 1221.9C1848.7 1224.9 1851.6 1227.4 1854.9 1230.7C1858.3 1234.1 1862.0 1238.3 1865.0 1242.0C1867.9 1245.8 1870.4 1249.8 1872.5 1253.3C1874.6 1256.9 1875.6 1259.8 1877.5 1263.4C1879.4 1266.9 1881.7 1271.1 1883.8 1274.7C1885.9 1278.2 1888.0 1280.3 1890.1 1284.7C1892.2 1289.1 1894.2 1295.4 1896.3 1301.0C1898.4 1306.7 1900.7 1312.9 1902.6 1318.6C1904.5 1324.2 1906.0 1329.4 1907.6 1334.9C1909.3 1340.3 1910.8 1346.0 1912.6 1351.2C1914.5 1356.4 1917.5 1361.2 1918.9 1366.3C1920.4 1371.3 1920.4 1376.3 1921.4 1381.3C1922.5 1386.3 1923.9 1390.9 1925.2 1396.4C1926.5 1401.8 1927.5 1408.9 1929.0 1413.9C1930.4 1419.0 1932.9 1423.6 1934.0 1426.5C1935.0 1429.3 1934.6 1427.7 1935.2 1431.0C1935.9 1434.3 1936.5 1440.6 1937.7 1446.1C1939.0 1451.5 1941.5 1457.4 1942.8 1463.6C1944.0 1469.9 1943.6 1475.8 1945.3 1483.7C1946.9 1491.6 1950.9 1502.5 1952.8 1511.3C1954.7 1520.1 1954.9 1527.2 1956.6 1536.4C1958.2 1545.6 1960.5 1556.5 1962.8 1566.5C1965.1 1576.6 1967.9 1587.9 1970.4 1596.6C1972.9 1605.4 1975.8 1612.5 1977.9 1619.2C1980.0 1625.9 1981.2 1631.4 1982.9 1636.8C1984.6 1642.2 1985.8 1646.4 1987.9 1651.8C1990.0 1657.3 1993.0 1664.0 1995.5 1669.4C1998.0 1674.9 2000.5 1680.3 2003.0 1684.5C2005.5 1688.7 2009.3 1692.8 2010.5 1694.5" stroke="#3a3a3a" stroke-width="2.8" fill="none" stroke-linejoin="round" stroke-linecap="round" clip-path="url(#dcl)"/>
<rect x="1318.7" y="1074.0" width="770.8" height="620.5" fill="none" stroke="#1c1c1c" stroke-width="2.6"/>
<path d="M1382.9 1694.5 v-6.0 M1382.9 1074.0 v6.0 M1447.2 1694.5 v-11.5 M1447.2 1074.0 v11.5 M1511.4 1694.5 v-6.0 M1511.4 1074.0 v6.0 M1575.6 1694.5 v-11.5 M1575.6 1074.0 v11.5 M1639.9 1694.5 v-6.0 M1639.9 1074.0 v6.0 M1704.1 1694.5 v-11.5 M1704.1 1074.0 v11.5 M1768.3 1694.5 v-6.0 M1768.3 1074.0 v6.0 M1832.6 1694.5 v-11.5 M1832.6 1074.0 v11.5 M1896.8 1694.5 v-6.0 M1896.8 1074.0 v6.0 M1961.0 1694.5 v-11.5 M1961.0 1074.0 v11.5 M2025.3 1694.5 v-6.0 M2025.3 1074.0 v6.0 M1318.7 1685.3 h11.5 M2089.5 1685.3 h-11.5 M1318.7 1583.2 h6.0 M2089.5 1583.2 h-6.0 M1318.7 1481.2 h11.5 M2089.5 1481.2 h-11.5 M1318.7 1379.2 h6.0 M2089.5 1379.2 h-6.0 M1318.7 1277.1 h11.5 M2089.5 1277.1 h-11.5 M1318.7 1175.0 h6.0 M2089.5 1175.0 h-6.0 " stroke="#1c1c1c" stroke-width="2.5" fill="none"/>
<text x="1303.0" y="1696.3" font-size="39.5" text-anchor="end" fill="#111">0</text>
<text x="1303.0" y="1492.2" font-size="39.5" text-anchor="end" fill="#111">20</text>
<text x="1303.0" y="1288.1" font-size="39.5" text-anchor="end" fill="#111">40</text>
<text x="1303.0" y="1086.0" font-size="39.5" text-anchor="end" fill="#111">60</text>
<text x="1318.2" y="1740.0" font-size="40.0" text-anchor="middle" fill="#111">0</text>
<text x="1446.2" y="1740.0" font-size="40.0" text-anchor="middle" fill="#111">50</text>
<text x="1574.6" y="1740.0" font-size="40.0" text-anchor="middle" fill="#111">100</text>
<text x="1703.1" y="1740.0" font-size="40.0" text-anchor="middle" fill="#111">150</text>
<text x="1831.6" y="1740.0" font-size="40.0" text-anchor="middle" fill="#111">200</text>
<text x="1960.0" y="1740.0" font-size="40.0" text-anchor="middle" fill="#111">250</text>
<text x="2088.5" y="1740.0" font-size="40.0" text-anchor="middle" fill="#111">300</text>
<text transform="translate(1620.5,1803.0) scale(1.0200,1)" font-size="52.0" text-anchor="start" fill="#111"><tspan font-style="italic">I</tspan><tspan font-size="35.9" dy="14.0" dx="1">ds</tspan><tspan dy="-14.0"> (μA)</tspan></text>
<text x="1141.0" y="1117.0" font-size="96.0" text-anchor="start" fill="#000">(d)</text>
<text transform="translate(1236.2,1463.0) rotate(-90)" font-size="53.0" text-anchor="start" fill="#111" font-style="italic">I</text>
<text transform="translate(1251.5,1449.5) rotate(-90)" font-size="37.0" text-anchor="start" fill="#111">ph</text>
<text transform="translate(1236.2,1400.5) rotate(-90)" font-size="53.0" text-anchor="start" fill="#111">(nA)</text>
<rect x="1329.5" y="1080" width="227" height="319" fill="#fff" stroke="#8a8a8a" stroke-width="1.8"/>
<text x="1339" y="1122.5" font-size="41" fill="#111"><tspan font-style="italic">V</tspan><tspan font-size="28.5" dy="12">g</tspan><tspan dy="-12" dx="8">−</tspan><tspan font-style="italic" dx="8">V</tspan><tspan font-size="28.5" dy="12">cnp</tspan><tspan dy="-12"> (V)</tspan></text>
<path d="M1335.3 1168.5 H1428.7" stroke="#3a3a3a" stroke-width="2.8"/>
<text x="1438.0" y="1182.0" font-size="41.0" text-anchor="start" fill="#111">−9</text>
<path d="M1335.3 1219.0 H1428.7" stroke="#f5333c" stroke-width="2.8"/>
<text x="1438.0" y="1232.5" font-size="41.0" text-anchor="start" fill="#111">−7</text>
<path d="M1335.3 1269.6 H1428.7" stroke="#1464f0" stroke-width="2.8"/>
<text x="1438.0" y="1283.1" font-size="41.0" text-anchor="start" fill="#111">−5</text>
<path d="M1335.3 1320.3 H1428.7" stroke="#1fa55a" stroke-width="2.8"/>
<text x="1438.0" y="1333.8" font-size="41.0" text-anchor="start" fill="#111">−3</text>
<path d="M1335.3 1371.2 H1428.7" stroke="#a566e6" stroke-width="2.8"/>
<text x="1438.0" y="1384.7" font-size="41.0" text-anchor="start" fill="#111">−1</text>
</svg>
</body></html>
